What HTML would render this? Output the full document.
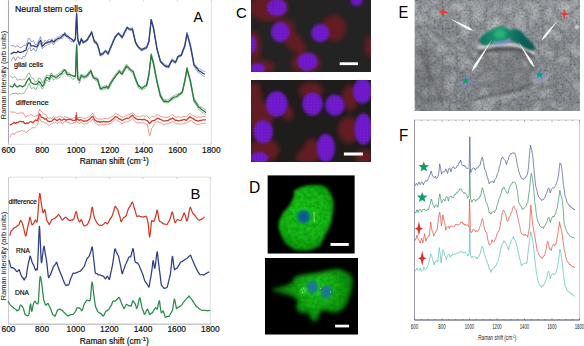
<!DOCTYPE html>
<html><head><meta charset="utf-8"><style>
html,body{margin:0;padding:0;background:#fff;}
svg{display:block;}
</style></head><body>
<svg width="584" height="346" viewBox="0 0 584 346">
<rect width="584" height="346" fill="#fff"/>
<defs><filter id="bl4" x="-50%" y="-50%" width="200%" height="200%"><feGaussianBlur stdDeviation="3"/></filter><filter id="blr" x="-50%" y="-50%" width="200%" height="200%"><feGaussianBlur stdDeviation="2.7"/></filter><filter id="bln" x="-50%" y="-50%" width="200%" height="200%"><feGaussianBlur stdDeviation="1.5"/></filter><filter id="bl2" x="-50%" y="-50%" width="200%" height="200%"><feGaussianBlur stdDeviation="1.6"/></filter><filter id="bl3" x="-50%" y="-50%" width="200%" height="200%"><feGaussianBlur stdDeviation="2.3"/></filter><filter id="bl1" x="-50%" y="-50%" width="200%" height="200%"><feGaussianBlur stdDeviation="0.8"/></filter><pattern id="spk" x="0" y="0" width="3.3" height="3.1" patternUnits="userSpaceOnUse"><circle cx="1" cy="1" r="0.55" fill="#b060e8"/><circle cx="2.6" cy="2.5" r="0.4" fill="#a050f0"/></pattern><clipPath id="c1"><rect x="251" y="0" width="120" height="72"/></clipPath><clipPath id="c2"><rect x="251" y="80" width="120" height="82"/></clipPath><clipPath id="d1"><rect x="267.4" y="175.2" width="87.4" height="78.5"/></clipPath><clipPath id="d2"><rect x="265" y="258" width="93" height="76.7"/></clipPath><clipPath id="e1"><rect x="414.5" y="0" width="165.5" height="111"/></clipPath></defs>
<g clip-path="url(#c1)"><rect x="251" y="0" width="120" height="72" fill="#232323"/>
<g filter="url(#blr)">
<ellipse cx="268" cy="8" rx="19" ry="13" fill="#641e22" opacity="1"/>
<ellipse cx="254" cy="46" rx="7" ry="15" fill="#641e22" opacity="1"/>
<ellipse cx="334" cy="28" rx="12" ry="13" fill="#641e22" opacity="1"/>
<ellipse cx="306" cy="63" rx="15" ry="10" fill="#641e22" opacity="1"/>
<ellipse cx="370" cy="46" rx="5" ry="11" fill="#641e22" opacity="1"/>
<ellipse cx="262" cy="67" rx="13" ry="7" fill="#641e22" opacity="1"/>
<ellipse cx="285" cy="30" rx="10" ry="11" fill="#641e22" opacity="1"/>
<ellipse cx="294" cy="42" rx="14" ry="8" fill="#641e22" opacity="1" transform="rotate(45 294 42)"/>
</g><g filter="url(#bln)">
<ellipse cx="277" cy="7.5" rx="10" ry="8.5" fill="#6c14c8" opacity="1"/>
<ellipse cx="280.3" cy="32" rx="9.3" ry="10" fill="#6c14c8" opacity="1"/>
<ellipse cx="320.3" cy="33" rx="9" ry="9" fill="#6c14c8" opacity="1"/>
<ellipse cx="307.5" cy="61.7" rx="10" ry="9" fill="#6c14c8" opacity="1"/>
<ellipse cx="356.5" cy="1" rx="5.8" ry="5" fill="#6c14c8" opacity="1"/>
<ellipse cx="252" cy="44.5" rx="4" ry="8.5" fill="#6c14c8" opacity="1"/>
<ellipse cx="257.5" cy="68.5" rx="7.5" ry="5" fill="#6c14c8" opacity="1"/>
</g>
<ellipse cx="277" cy="7.5" rx="10" ry="8.5" fill="url(#spk)" opacity="0.35"/>
<ellipse cx="280.3" cy="32" rx="9.3" ry="10" fill="url(#spk)" opacity="0.35"/>
<ellipse cx="320.3" cy="33" rx="9" ry="9" fill="url(#spk)" opacity="0.35"/>
<ellipse cx="307.5" cy="61.7" rx="10" ry="9" fill="url(#spk)" opacity="0.35"/>
<ellipse cx="252" cy="44.5" rx="4" ry="8.5" fill="url(#spk)" opacity="0.35"/>
<ellipse cx="257.5" cy="68.5" rx="7.5" ry="5" fill="url(#spk)" opacity="0.35"/>
<rect x="339.7" y="62.3" width="18.3" height="2.8" fill="#fff"/></g>
<g clip-path="url(#c2)"><rect x="251" y="80" width="120" height="82" fill="#1f1c1c"/>
<g filter="url(#blr)">
<ellipse cx="256" cy="110" rx="7" ry="28" fill="#641e22" opacity="1"/>
<ellipse cx="265" cy="115" rx="9" ry="12" fill="#641e22" opacity="1"/>
<ellipse cx="253" cy="92" rx="5" ry="9" fill="#641e22" opacity="1"/>
<ellipse cx="264" cy="150" rx="15" ry="12" fill="#641e22" opacity="1"/>
<ellipse cx="311" cy="91" rx="12" ry="9" fill="#641e22" opacity="1"/>
<ellipse cx="350" cy="98" rx="8" ry="13" fill="#641e22" opacity="1"/>
<ellipse cx="349" cy="130" rx="11" ry="13" fill="#641e22" opacity="1"/>
<ellipse cx="312" cy="151" rx="9" ry="12" fill="#641e22" opacity="1"/>
<ellipse cx="364" cy="157" rx="9" ry="7" fill="#641e22" opacity="1"/>
<ellipse cx="304" cy="157" rx="8" ry="7" fill="#641e22" opacity="1"/>
<ellipse cx="288" cy="113" rx="5" ry="8" fill="#641e22" opacity="1"/>
</g><g filter="url(#bln)">
<ellipse cx="276.7" cy="103.9" rx="10.9" ry="12.7" fill="#6c14c8" opacity="1"/>
<ellipse cx="312.5" cy="103.9" rx="10.3" ry="11.5" fill="#6c14c8" opacity="1"/>
<ellipse cx="334.9" cy="105.1" rx="9.7" ry="10.5" fill="#6c14c8" opacity="1"/>
<ellipse cx="362.5" cy="91" rx="9.5" ry="12.5" fill="#6c14c8" opacity="1"/>
<ellipse cx="363.5" cy="129" rx="9" ry="15.5" fill="#6c14c8" opacity="1"/>
<ellipse cx="263.3" cy="131.7" rx="9.7" ry="11.5" fill="#6c14c8" opacity="1"/>
<ellipse cx="325.8" cy="148" rx="9" ry="14" fill="#6c14c8" opacity="1"/>
<ellipse cx="259" cy="158" rx="9" ry="6" fill="#6c14c8" opacity="1"/>
</g>
<ellipse cx="276.7" cy="103.9" rx="10.9" ry="12.7" fill="url(#spk)" opacity="0.35"/>
<ellipse cx="312.5" cy="103.9" rx="10.3" ry="11.5" fill="url(#spk)" opacity="0.35"/>
<ellipse cx="334.9" cy="105.1" rx="9.7" ry="10.5" fill="url(#spk)" opacity="0.35"/>
<ellipse cx="362.5" cy="91" rx="9.5" ry="12.5" fill="url(#spk)" opacity="0.35"/>
<ellipse cx="363.5" cy="129" rx="9" ry="15.5" fill="url(#spk)" opacity="0.35"/>
<ellipse cx="263.3" cy="131.7" rx="9.7" ry="11.5" fill="url(#spk)" opacity="0.35"/>
<ellipse cx="325.8" cy="148" rx="9" ry="14" fill="url(#spk)" opacity="0.35"/>
<ellipse cx="259" cy="158" rx="9" ry="6" fill="url(#spk)" opacity="0.35"/>
<rect x="343.9" y="152.5" width="18.9" height="3" fill="#fff"/></g>
<filter id="gtex" x="260" y="170" width="100" height="170" filterUnits="userSpaceOnUse"><feTurbulence type="fractalNoise" baseFrequency="0.25" numOctaves="2" seed="5"/><feColorMatrix type="matrix" values="0 0 0 0 0  0 0 0 0 0.1  0 0 0 0 0  -2.5 0 0 0 1.6"/><feComposite in2="SourceGraphic" operator="in"/></filter>
<g clip-path="url(#d1)"><rect x="267.4" y="175.2" width="87.4" height="78.5" fill="#000"/>
<radialGradient id="gd1" cx="305" cy="214" r="42" gradientUnits="userSpaceOnUse"><stop offset="0" stop-color="#1ccc1c"/><stop offset="0.6" stop-color="#12b412"/><stop offset="1" stop-color="#0a860a"/></radialGradient>
<radialGradient id="gd2" cx="318" cy="288" r="42" gradientUnits="userSpaceOnUse"><stop offset="0" stop-color="#20d020"/><stop offset="0.35" stop-color="#14b414"/><stop offset="0.7" stop-color="#0e900e"/><stop offset="1" stop-color="#086808"/></radialGradient>
<polygon points="294.0,196.0 294.0,190.8 300.0,187.5 307.0,185.6 315.0,185.0 322.6,185.6 327.5,188.5 330.4,193.4 333.0,199.0 333.5,206.4 332.5,214.0 331.2,222.0 328.5,229.0 325.2,235.0 322.5,240.5 320.0,245.4 314.0,249.0 307.0,250.6 300.0,250.5 294.0,249.3 288.0,245.5 283.6,240.2 280.5,234.0 278.4,227.2 279.0,221.5 281.0,216.8 284.0,211.5 288.8,206.4 292.0,201.0" fill="url(#gd1)" filter="url(#bl2)"/>
<polygon points="294.0,196.0 294.0,190.8 300.0,187.5 307.0,185.6 315.0,185.0 322.6,185.6 327.5,188.5 330.4,193.4 333.0,199.0 333.5,206.4 332.5,214.0 331.2,222.0 328.5,229.0 325.2,235.0 322.5,240.5 320.0,245.4 314.0,249.0 307.0,250.6 300.0,250.5 294.0,249.3 288.0,245.5 283.6,240.2 280.5,234.0 278.4,227.2 279.0,221.5 281.0,216.8 284.0,211.5 288.8,206.4 292.0,201.0" fill="#000" filter="url(#gtex)" opacity="0.3"/>
<circle cx="303.6" cy="216.8" r="7" fill="#0f7680" filter="url(#bl1)"/><circle cx="303.6" cy="216.8" r="4.6" fill="#10588a" filter="url(#bl1)"/>
<line x1="313.9" y1="212" x2="314.3" y2="222" stroke="#c8f080" stroke-width="0.8"/>
<rect x="330.5" y="243" width="18.3" height="2.9" fill="#fff"/></g>
<g clip-path="url(#d2)"><rect x="265" y="258" width="93" height="76.7" fill="#000"/>
<polygon points="271.7,289.1 285.0,285.8 292.8,282.5 293.9,278.0 298.4,275.8 305.0,274.7 313.9,273.6 320.6,272.5 329.5,270.2 338.4,269.1 345.1,271.3 350.6,274.7 352.9,280.2 351.8,289.1 349.5,295.8 347.3,302.5 342.9,309.2 336.2,312.5 329.5,311.4 322.8,309.2 319.5,313.6 317.3,320.3 312.8,321.4 309.5,315.8 307.3,311.4 302.8,313.6 298.4,311.4 296.1,306.9 298.4,300.3 291.7,295.8 282.8,293.6 273.9,291.4" fill="url(#gd2)" filter="url(#bl3)"/>
<polygon points="271.7,289.1 285.0,285.8 292.8,282.5 293.9,278.0 298.4,275.8 305.0,274.7 313.9,273.6 320.6,272.5 329.5,270.2 338.4,269.1 345.1,271.3 350.6,274.7 352.9,280.2 351.8,289.1 349.5,295.8 347.3,302.5 342.9,309.2 336.2,312.5 329.5,311.4 322.8,309.2 319.5,313.6 317.3,320.3 312.8,321.4 309.5,315.8 307.3,311.4 302.8,313.6 298.4,311.4 296.1,306.9 298.4,300.3 291.7,295.8 282.8,293.6 273.9,291.4" fill="#000" filter="url(#gtex)" opacity="0.3"/>
<ellipse cx="312.5" cy="287" rx="5.6" ry="6.4" fill="#1a7a8e" filter="url(#bl1)"/>
<ellipse cx="326.4" cy="291.8" rx="5.6" ry="6.8" fill="#1a7a8e" filter="url(#bl1)"/>
<g fill="#90f070"><circle cx="301.5" cy="289.5" r="0.7"/><circle cx="303.5" cy="288.3" r="0.7"/><circle cx="305.2" cy="289.6" r="0.7"/><circle cx="302.5" cy="292.3" r="0.7"/><circle cx="304.8" cy="291.5" r="0.6"/><circle cx="320.5" cy="288.5" r="0.6"/><circle cx="330.5" cy="291.8" r="0.6"/></g>
<ellipse cx="303.5" cy="290.5" rx="4" ry="3.5" fill="#40e040" opacity="0.5" filter="url(#bl1)"/>
<rect x="335.1" y="324.7" width="14" height="2.7" fill="#fff"/></g>
<filter id="noise" x="414.5" y="0" width="165.5" height="111" filterUnits="userSpaceOnUse"><feTurbulence type="fractalNoise" baseFrequency="0.5" numOctaves="1" seed="4"/><feColorMatrix type="matrix" values="1.6 0 0 0 -0.3  1.6 0 0 0 -0.3  1.6 0 0 0 -0.3  0 0 0 0 1"/></filter>
<filter id="noise2" x="414.5" y="0" width="165.5" height="111" filterUnits="userSpaceOnUse"><feTurbulence type="turbulence" baseFrequency="0.07" numOctaves="3" seed="4"/><feColorMatrix type="matrix" values="0 0 0 0 1  0 0 0 0 1  0 0 0 0 1  1.2 0 0 0 -0.05"/></filter>
<linearGradient id="eg" x1="0" y1="0" x2="0" y2="111" gradientUnits="userSpaceOnUse"><stop offset="0" stop-color="#72787e"/><stop offset="0.35" stop-color="#686e74"/><stop offset="1" stop-color="#60666c"/></linearGradient>
<g clip-path="url(#e1)"><rect x="414.5" y="0" width="165.5" height="111" fill="url(#eg)"/>
<rect x="414.5" y="0" width="165.5" height="111" filter="url(#noise2)" opacity="0.5"/>
<rect x="414.5" y="0" width="165.5" height="111" filter="url(#noise)" opacity="0.22"/>
<ellipse cx="505" cy="72" rx="29" ry="21" fill="#6a6a6a" opacity="0.35" filter="url(#bl4)"/>
<ellipse cx="428" cy="80" rx="16" ry="34" fill="#5e5e5e" opacity="0.3" filter="url(#bl4)"/>
<g filter="url(#bl1)" stroke="#4a4a4a" fill="none"><path d="M419,48 C425,62 430,75 437,90 S443,105 445,111" stroke-width="2" opacity="0.45"/><path d="M474,99 C490,95 505,92 511,91.3 S525,86 534,83.5" stroke-width="2.2" opacity="0.55"/><path d="M530,93 C540,90 548,87 556,84" stroke-width="2" opacity="0.5"/><path d="M476,57 C485,52 493,50 498,50 S515,51 521,55 S530,64 534,71" stroke-width="1.8" opacity="0.55"/><path d="M556,42 L557,60" stroke-width="1.5" opacity="0.35"/><path d="M414,22 C430,28 445,30 460,33" stroke-width="2" opacity="0.25"/><path d="M417,26 C428,30 438,36 446,42 S465,55 474,60" stroke-width="1.6" opacity="0.35"/><path d="M424,35 C427,60 429,85 432,111" stroke-width="1.8" opacity="0.3"/><path d="M543,49 C555,52 566,55 578,59" stroke-width="1.6" opacity="0.3"/></g>
<g filter="url(#bl1)" stroke="#c4c4c4" fill="none"><path d="M419,21 C428,32 437,42 446,50" stroke-width="1.6" opacity="0.5"/><path d="M476,102 C495,99 515,96 540,90" stroke-width="2" opacity="0.5"/><path d="M440,44 C450,40 462,34 474,30" stroke-width="1.6" opacity="0.45"/></g>
<path d="M478,47.5 C490,44.5 505,43 518,45.5 C525,47 530,50 534,54" stroke="#d0d0d0" stroke-width="3" fill="none" filter="url(#bl1)"/>
<path d="M478,52.5 C490,49.5 505,47.5 518,50 C525,51.5 530,54.5 534,57.5" stroke="#404040" stroke-width="2.5" fill="none" filter="url(#bl1)" opacity="0.8"/>
<linearGradient id="cellg" x1="480" y1="0" x2="536" y2="0" gradientUnits="userSpaceOnUse"><stop offset="0" stop-color="#0f7466"/><stop offset="0.35" stop-color="#189a70"/><stop offset="0.55" stop-color="#137a66"/><stop offset="0.75" stop-color="#0c625a"/><stop offset="1" stop-color="#0a5650"/></linearGradient>
<polygon points="479.6,40.9 480.8,37.0 485.3,33.6 491.0,30.2 496.6,27.3 502.2,26.6 506.8,27.9 510.2,30.2 513.5,29.0 518.1,29.6 521.5,31.3 524.8,35.8 529.4,40.3 533.9,44.9 535.6,48.2 531.6,50.5 526.0,48.8 521.5,46.0 516.9,42.6 511.3,40.9 509.0,39.2 507.9,41.5 502.2,43.2 494.3,43.7 491.0,44.3 485.3,45.4 480.8,43.7" fill="url(#cellg)" filter="url(#bl1)"/>
<g filter="url(#bl2)"><ellipse cx="500" cy="34" rx="6" ry="4.5" fill="#2ab078"/></g>
<path d="M493,42.5 C499,43.8 505,42.5 510,39.5" stroke="#8c8cd8" stroke-width="2.8" fill="none" filter="url(#bl1)"/>
<polygon points="449.6,18.6 467.8,29.4 473.1,30.7 469.0,27.1" fill="#fff"/>
<polygon points="492,39.5 474.4,64.8 471.4,72 476.6,66.2" fill="#fff"/>
<polygon points="518.4,41.7 530.2,63.0 534.5,67.5 532.4,61.7" fill="#fff"/>
<polygon points="558.5,19.4 543.9,35.5 541.5,40.5 545.9,37.1" fill="#fff"/>
<g filter="url(#bl1)"><circle cx="466" cy="81.5" r="5" fill="#8888c8" opacity="0.75"/><circle cx="539.8" cy="76" r="5.5" fill="#8888c8" opacity="0.75"/></g>
<polygon points="465.6,76.2 466.7,79.1 469.8,79.2 467.4,81.2 468.2,84.2 465.6,82.4 463.0,84.2 463.8,81.2 461.4,79.2 464.5,79.1" fill="#16a05e"/>
<polygon points="539.6,70.4 540.7,73.3 543.8,73.4 541.4,75.4 542.2,78.4 539.6,76.6 537.0,78.4 537.8,75.4 535.4,73.4 538.5,73.3" fill="#16a05e"/>
<polygon points="443.2,7.0 444.4,11.0 448.2,12.2 444.4,13.4 443.2,17.4 442.0,13.4 438.2,12.2 442.0,11.0" fill="#e83a30"/>
<polygon points="564.4,8.7 565.6,12.7 569.4,13.9 565.6,15.1 564.4,19.1 563.2,15.1 559.4,13.9 563.2,12.7" fill="#e83a30"/>
<circle cx="576.8" cy="26.9" r="2" fill="#f0f0f0" filter="url(#bl1)"/>
</g>
<line x1="8.5" y1="-0.5" x2="211.3" y2="-0.5" stroke="#d8d8dc" stroke-width="0.8"/>
<line x1="211.3" y1="-0.5" x2="211.3" y2="144.3" stroke="#d8d8dc" stroke-width="0.8"/>
<line x1="8.5" y1="144.3" x2="211.3" y2="144.3" stroke="#d8d8dc" stroke-width="0.8"/>
<line x1="8.5" y1="-0.5" x2="8.5" y2="144.3" stroke="#a8a8b4" stroke-width="1"/>
<line x1="8.5" y1="-0.5" x2="8.5" y2="1.5" stroke="#c8c8cc" stroke-width="0.7"/>
<line x1="8.5" y1="144.3" x2="8.5" y2="142.3" stroke="#c8c8cc" stroke-width="0.7"/>
<line x1="42.3" y1="-0.5" x2="42.3" y2="1.5" stroke="#c8c8cc" stroke-width="0.7"/>
<line x1="42.3" y1="144.3" x2="42.3" y2="142.3" stroke="#c8c8cc" stroke-width="0.7"/>
<line x1="76.1" y1="-0.5" x2="76.1" y2="1.5" stroke="#c8c8cc" stroke-width="0.7"/>
<line x1="76.1" y1="144.3" x2="76.1" y2="142.3" stroke="#c8c8cc" stroke-width="0.7"/>
<line x1="109.9" y1="-0.5" x2="109.9" y2="1.5" stroke="#c8c8cc" stroke-width="0.7"/>
<line x1="109.9" y1="144.3" x2="109.9" y2="142.3" stroke="#c8c8cc" stroke-width="0.7"/>
<line x1="143.7" y1="-0.5" x2="143.7" y2="1.5" stroke="#c8c8cc" stroke-width="0.7"/>
<line x1="143.7" y1="144.3" x2="143.7" y2="142.3" stroke="#c8c8cc" stroke-width="0.7"/>
<line x1="177.5" y1="-0.5" x2="177.5" y2="1.5" stroke="#c8c8cc" stroke-width="0.7"/>
<line x1="177.5" y1="144.3" x2="177.5" y2="142.3" stroke="#c8c8cc" stroke-width="0.7"/>
<line x1="211.3" y1="-0.5" x2="211.3" y2="1.5" stroke="#c8c8cc" stroke-width="0.7"/>
<line x1="211.3" y1="144.3" x2="211.3" y2="142.3" stroke="#c8c8cc" stroke-width="0.7"/>
<text x="8.5" y="153.4" font-size="8.4" text-anchor="middle" font-family="Liberation Sans, sans-serif" stroke="#000" stroke-width="0.18" fill="#111">600</text>
<text x="42.3" y="153.4" font-size="8.4" text-anchor="middle" font-family="Liberation Sans, sans-serif" stroke="#000" stroke-width="0.18" fill="#111">800</text>
<text x="76.1" y="153.4" font-size="8.4" text-anchor="middle" font-family="Liberation Sans, sans-serif" stroke="#000" stroke-width="0.18" fill="#111">1000</text>
<text x="109.9" y="153.4" font-size="8.4" text-anchor="middle" font-family="Liberation Sans, sans-serif" stroke="#000" stroke-width="0.18" fill="#111">1200</text>
<text x="143.7" y="153.4" font-size="8.4" text-anchor="middle" font-family="Liberation Sans, sans-serif" stroke="#000" stroke-width="0.18" fill="#111">1400</text>
<text x="177.5" y="153.4" font-size="8.4" text-anchor="middle" font-family="Liberation Sans, sans-serif" stroke="#000" stroke-width="0.18" fill="#111">1600</text>
<text x="211.3" y="153.4" font-size="8.4" text-anchor="middle" font-family="Liberation Sans, sans-serif" stroke="#000" stroke-width="0.18" fill="#111">1800</text>
<text x="79.7" y="164.3" font-size="8.4" font-family="Liberation Sans, sans-serif" stroke="#000" stroke-width="0.18" fill="#111">Raman shift (cm<tspan dy="-3" font-size="6">-1</tspan><tspan dy="3">)</tspan></text>
<text transform="translate(6.4,75) rotate(-90)" font-size="7.4" text-anchor="middle" font-family="Liberation Sans, sans-serif" fill="#222">Raman intensity (arb units)</text>
<text x="15" y="11.7" font-size="8.8" font-family="Liberation Sans, sans-serif" stroke="#000" stroke-width="0.18" fill="#111">Neural stem cells</text>
<text x="13.9" y="67.4" font-size="7.2" font-family="Liberation Sans, sans-serif" stroke="#000" stroke-width="0.18" fill="#111">glial cells</text>
<text x="15.8" y="104.6" font-size="7.5" font-family="Liberation Sans, sans-serif" stroke="#000" stroke-width="0.18" fill="#111">difference</text>
<text x="193.5" y="22.4" font-size="14" font-family="Liberation Sans, sans-serif" fill="#000">A</text>
<polyline points="11.1,45.6 12.4,46.0 13.7,45.2 15.4,47.2 16.7,45.8 18.0,46.1 19.3,47.2 20.6,47.6 21.9,47.1 23.2,46.1 24.5,45.2 25.8,45.4 27.1,42.6 28.4,38.3 30.1,39.1 31.0,41.7 32.3,41.4 33.6,40.8 34.9,44.2 36.2,45.2 37.5,43.1 38.8,40.2 40.5,36.7 42.3,43.5 44.0,41.4 45.3,40.3 46.6,41.6 47.9,40.2 49.2,39.4 50.5,40.4 51.8,38.7 53.5,42.1 54.8,39.5 56.1,38.1 57.4,37.3 58.7,37.1 60.5,35.7 62.2,34.5 63.5,34.9 64.8,32.3 66.1,34.7 67.4,34.9 69.1,37.7 70.8,38.9 72.2,39.8 73.5,40.9 75.4,38.0 76.6,12.3 77.8,38.0 79.5,43.8 81.3,38.2 83.0,41.1 84.4,40.9 85.9,40.0 87.3,38.7 88.8,36.1 90.2,33.6 91.7,30.9 93.0,36.2 94.3,40.5 96.0,41.0 97.7,43.6 99.0,49.0 100.3,54.0 101.6,53.1 102.9,52.7 104.2,51.4 105.5,50.3 106.8,51.1 108.1,52.8 109.8,48.4 111.6,44.1 113.3,39.9 115.0,36.0 116.8,34.0 118.5,32.3 120.2,34.0 122.0,36.4 123.3,33.7 124.6,31.1 125.9,28.7 127.2,27.0 128.5,27.8 129.8,28.4 131.1,28.2 132.4,27.8 133.9,34.9 135.5,41.9 137.0,43.9 138.5,46.8 140.2,48.0 141.9,48.8 143.5,48.3 145.0,47.2 146.6,46.3 148.9,40.4 151.2,19.0 153.5,26.4 155.2,36.8 157.0,47.9 158.7,54.2 160.4,60.3 162.0,62.1 163.5,63.0 165.1,64.7 166.8,65.3 168.5,66.0 170.2,62.3 172.0,58.7 173.8,60.1 175.5,61.8 177.8,56.0 179.5,55.2 181.2,54.4 182.9,49.5 184.7,45.4 187.0,32.1 188.8,38.6 190.5,44.2 192.2,53.5 194.0,63.3 195.5,65.0 197.1,66.9 198.6,68.5 200.1,69.1 201.5,70.0 202.9,71.0 204.4,71.4" fill="none" stroke="#2d3f82" stroke-width="0.6" stroke-linejoin="round" stroke-linecap="round" opacity="0.85" />
<polyline points="11.1,60.9 12.4,58.2 13.7,56.9 15.4,60.7 16.7,57.9 18.0,56.5 19.3,58.3 20.6,58.3 21.9,58.6 23.2,56.4 24.5,57.1 25.8,54.9 27.1,51.9 28.4,48.9 30.1,47.2 31.0,51.0 32.3,49.9 33.6,48.0 34.9,50.7 36.2,51.2 37.5,47.8 38.8,44.8 40.5,43.3 42.3,48.7 44.0,46.7 45.3,45.8 46.6,45.6 47.9,44.3 49.2,44.1 50.5,43.3 51.8,42.1 53.5,45.0 54.8,42.0 56.1,41.2 57.4,41.0 58.7,40.0 60.5,38.1 62.2,38.6 63.5,37.0 64.8,34.7 66.1,35.7 67.4,38.0 69.1,38.3 70.8,41.3 72.2,41.6 73.5,42.8 75.4,40.0 76.6,14.5 77.8,41.9 79.5,45.8 81.3,40.0 83.0,43.7 84.4,42.6 85.9,41.9 87.3,41.0 88.8,38.3 90.2,35.9 91.7,33.2 93.0,37.5 94.3,43.1 96.0,43.4 97.7,46.0 99.0,50.7 100.3,56.0 101.6,55.6 102.9,54.7 104.2,53.3 105.5,51.7 106.8,53.8 108.1,54.4 109.8,50.4 111.6,45.9 113.3,42.0 115.0,38.2 116.8,35.8 118.5,33.5 120.2,36.1 122.0,38.6 123.3,36.0 124.6,33.2 125.9,31.3 127.2,28.3 128.5,29.5 129.8,30.8 131.1,30.4 132.4,29.6 133.9,36.9 135.5,43.5 137.0,46.0 138.5,48.5 140.2,50.0 141.9,50.9 143.5,49.9 145.0,49.4 146.6,48.5 148.9,42.5 151.2,21.0 153.5,29.0 155.2,39.2 157.0,50.0 158.7,55.5 160.4,62.3 162.0,64.0 163.5,65.2 165.1,66.6 166.8,67.7 168.5,68.0 170.2,64.4 172.0,60.7 173.8,62.7 175.5,63.3 177.8,57.3 179.5,56.8 181.2,56.3 182.9,52.3 184.7,47.2 187.0,34.7 188.8,41.0 190.5,47.7 192.2,56.8 194.0,66.3 195.5,68.7 197.1,70.9 198.6,72.9 200.1,73.2 201.5,74.5 202.9,75.9 204.4,76.6" fill="none" stroke="#2d3f82" stroke-width="0.6" stroke-linejoin="round" stroke-linecap="round" opacity="0.85" />
<polyline points="11.1,53.9 12.4,53.1 13.7,52.2 15.4,52.7 16.7,52.6 18.0,51.2 19.3,52.3 20.6,52.4 21.9,51.8 23.2,51.7 24.5,50.6 25.8,50.4 27.1,46.1 28.4,42.8 30.1,43.1 31.0,46.0 32.3,45.8 33.6,45.8 34.9,46.3 36.2,47.0 37.5,45.9 38.8,42.9 40.5,40.4 42.3,46.4 44.0,44.5 45.3,42.9 46.6,43.2 47.9,42.0 49.2,42.0 50.5,41.8 51.8,40.6 53.5,41.9 54.8,40.9 56.1,39.7 57.4,39.0 58.7,38.3 60.5,37.8 62.2,36.1 63.5,34.8 64.8,33.7 66.1,36.0 67.4,36.1 69.1,37.2 70.8,38.5 72.2,39.5 73.5,41.2 75.4,39.1 76.6,13.6 77.8,39.6 79.5,44.7 81.3,38.8 83.0,42.3 84.4,41.9 85.9,40.8 87.3,39.7 88.8,36.9 90.2,35.0 91.7,32.3 93.0,37.1 94.3,41.4 96.0,42.5 97.7,45.4 99.0,49.9 100.3,55.0 101.6,53.9 102.9,54.1 104.2,52.0 105.5,51.0 106.8,52.0 108.1,54.0 109.8,49.5 111.6,45.4 113.3,41.4 115.0,37.7 116.8,35.1 118.5,33.3 120.2,35.3 122.0,37.2 123.3,35.3 124.6,32.4 125.9,29.8 127.2,27.3 128.5,28.6 129.8,29.2 131.1,29.4 132.4,29.0 133.9,35.3 135.5,42.1 137.0,45.0 138.5,47.1 140.2,48.6 141.9,50.0 143.5,48.7 145.0,48.1 146.6,47.8 148.9,41.6 151.2,19.6 153.5,28.1 155.2,38.4 157.0,49.0 158.7,55.1 160.4,61.2 162.0,63.0 163.5,64.7 165.1,66.0 166.8,66.3 168.5,66.9 170.2,63.5 172.0,60.3 173.8,61.3 175.5,62.4 177.8,56.9 179.5,55.7 181.2,55.6 182.9,50.7 184.7,46.3 187.0,33.8 188.8,39.6 190.5,46.6 192.2,55.1 194.0,64.8 195.5,66.7 197.1,68.3 198.6,70.6 200.1,71.3 201.5,72.2 202.9,73.3 204.4,74.0" fill="none" stroke="#2d3f82" stroke-width="1.3" stroke-linejoin="round" stroke-linecap="round" opacity="1" />
<polyline points="10.2,75.7 11.5,77.4 12.8,78.0 14.5,76.3 15.8,77.4 17.1,80.1 18.4,79.9 19.7,79.1 21.0,79.8 22.3,80.0 23.6,79.1 24.9,79.4 26.2,77.7 27.5,74.5 29.3,72.9 31.0,77.3 32.3,78.0 33.6,78.4 34.9,81.4 36.2,82.0 37.5,80.4 38.8,78.0 40.5,78.8 42.3,83.0 43.6,80.9 44.9,77.6 46.6,75.1 47.9,75.4 49.2,76.3 50.9,73.4 52.2,73.4 53.5,76.4 55.2,75.2 57.0,75.0 58.7,73.3 60.4,72.3 61.9,70.6 63.3,69.1 64.8,69.6 66.1,70.1 67.4,72.9 69.1,72.7 70.8,75.0 72.5,75.7 74.3,76.1 75.5,74.9 76.6,43.7 77.8,76.9 79.5,78.3 81.3,73.9 82.6,75.1 83.9,75.4 85.6,75.2 87.3,74.3 89.0,71.7 90.8,69.5 92.1,72.7 93.4,75.7 94.7,77.1 96.0,77.4 97.7,78.0 99.0,82.3 100.3,87.2 102.0,87.0 103.8,86.2 105.1,85.7 106.4,85.3 108.1,87.2 109.8,83.3 111.6,80.2 113.3,77.6 115.0,75.0 116.5,72.9 117.9,71.1 119.4,69.6 120.7,71.4 122.0,72.2 123.4,69.8 124.9,66.9 126.3,64.1 128.1,65.9 129.8,68.3 131.5,69.5 133.2,70.5 134.9,75.5 136.7,80.3 138.5,85.1 140.2,86.3 141.9,87.0 143.5,86.4 145.0,85.2 146.6,83.7 148.9,73.5 151.2,53.5 153.5,61.5 155.2,70.6 157.0,80.4 158.7,86.7 160.4,93.6 162.2,97.2 163.9,100.0 165.4,99.8 167.0,100.1 168.5,99.4 170.1,98.4 171.6,97.3 173.2,96.2 174.7,95.2 176.3,94.4 177.8,93.9 179.3,93.2 180.9,92.1 182.4,90.7 184.7,80.0 187.0,67.0 188.8,74.0 190.5,79.9 192.2,89.3 194.0,97.9 195.5,100.3 197.1,103.1 198.6,105.2 200.1,106.4 201.5,107.3 202.8,108.0 204.2,109.1 205.5,109.9" fill="none" stroke="#267a3a" stroke-width="0.6" stroke-linejoin="round" stroke-linecap="round" opacity="0.85" />
<polyline points="10.2,95.2 11.5,93.7 12.8,93.7 14.5,93.6 15.8,93.0 17.1,94.0 18.4,94.3 19.7,93.0 21.0,94.3 22.3,93.2 23.6,93.7 24.9,91.5 26.2,89.5 27.5,87.5 29.3,83.1 31.0,88.4 32.3,88.2 33.6,87.0 34.9,89.3 36.2,89.3 37.5,86.3 38.8,83.6 40.5,86.4 42.3,89.2 43.6,87.2 44.9,84.2 46.6,80.1 47.9,80.5 49.2,82.0 50.9,77.3 52.2,77.7 53.5,80.3 55.2,78.6 57.0,79.0 58.7,78.1 60.4,76.2 61.9,74.0 63.3,74.2 64.8,72.7 66.1,73.4 67.4,74.9 69.1,76.7 70.8,76.6 72.5,79.1 74.3,79.0 75.5,77.7 76.6,46.7 77.8,80.1 79.5,83.2 81.3,77.0 82.6,77.9 83.9,79.0 85.6,77.8 87.3,77.2 89.0,75.0 90.8,72.7 92.1,76.0 93.4,78.9 94.7,79.3 96.0,81.0 97.7,81.3 99.0,85.6 100.3,89.9 102.0,90.0 103.8,89.6 105.1,88.8 106.4,88.2 108.1,89.6 109.8,86.9 111.6,82.8 113.3,80.5 115.0,77.8 116.5,76.0 117.9,74.3 119.4,72.4 120.7,73.6 122.0,75.3 123.4,73.0 124.9,70.2 126.3,67.2 128.1,69.4 129.8,70.6 131.5,72.2 133.2,73.9 134.9,78.7 136.7,83.1 138.5,88.0 140.2,88.9 141.9,90.1 143.5,89.0 145.0,88.2 146.6,86.8 148.9,76.2 151.2,56.7 153.5,64.7 155.2,73.7 157.0,83.4 158.7,90.3 160.4,97.1 162.2,100.3 163.9,102.4 165.4,102.8 167.0,102.9 168.5,102.7 170.1,101.3 171.6,100.6 173.2,99.2 174.7,98.3 176.3,97.4 177.8,97.4 179.3,95.7 180.9,94.4 182.4,93.3 184.7,83.0 187.0,70.9 188.8,76.6 190.5,83.1 192.2,92.2 194.0,101.9 195.5,104.0 197.1,106.5 198.6,109.2 200.1,110.7 201.5,111.9 202.8,112.2 204.2,113.6 205.5,114.7" fill="none" stroke="#267a3a" stroke-width="0.6" stroke-linejoin="round" stroke-linecap="round" opacity="0.85" />
<polyline points="10.2,86.1 11.5,86.6 12.8,87.0 14.5,83.7 15.8,86.0 17.1,86.9 18.4,86.7 19.7,85.5 21.0,86.0 22.3,87.0 23.6,85.9 24.9,85.7 26.2,82.4 27.5,80.2 29.3,77.9 31.0,82.5 32.3,83.2 33.6,84.1 34.9,84.2 36.2,84.4 37.5,83.7 38.8,81.2 40.5,83.0 42.3,86.4 43.6,84.5 44.9,80.7 46.6,77.2 47.9,77.7 49.2,79.4 50.9,75.2 52.2,75.8 53.5,76.7 55.2,77.0 57.0,77.1 58.7,75.6 60.4,74.0 61.9,73.2 63.3,71.1 64.8,70.0 66.1,72.0 67.4,74.7 69.1,74.3 70.8,75.0 72.5,75.7 74.3,76.4 75.5,75.6 76.6,45.3 77.8,78.7 79.5,80.4 81.3,75.4 82.6,76.2 83.9,77.1 85.6,76.6 87.3,75.5 89.0,73.1 90.8,70.8 92.1,74.5 93.4,77.5 94.7,78.4 96.0,78.8 97.7,79.9 99.0,84.6 100.3,88.6 102.0,88.5 103.8,87.4 105.1,87.7 106.4,86.4 108.1,88.4 109.8,84.6 111.6,81.9 113.3,79.2 115.0,76.8 116.5,74.9 117.9,73.3 119.4,71.2 120.7,72.9 122.0,74.0 123.4,71.1 124.9,69.0 126.3,65.9 128.1,67.5 129.8,69.1 131.5,70.8 133.2,71.8 134.9,77.2 136.7,82.0 138.5,85.9 140.2,87.0 141.9,88.6 143.5,87.1 145.0,86.3 146.6,85.4 148.9,74.5 151.2,54.9 153.5,63.5 155.2,72.3 157.0,81.5 158.7,88.9 160.4,95.8 162.2,98.8 163.9,101.5 165.4,101.2 167.0,101.5 168.5,101.6 170.1,100.3 171.6,98.7 173.2,97.6 174.7,97.0 176.3,96.5 177.8,95.6 179.3,94.4 180.9,93.5 182.4,91.6 184.7,81.7 187.0,68.7 188.8,75.3 190.5,81.9 192.2,90.6 194.0,100.5 195.5,102.0 197.1,104.8 198.6,107.0 200.1,108.0 201.5,109.5 202.8,110.3 204.2,111.3 205.5,112.3" fill="none" stroke="#267a3a" stroke-width="1.3" stroke-linejoin="round" stroke-linecap="round" opacity="1" />
<polyline points="10.2,111.5 11.5,112.3 12.8,111.9 14.1,112.2 15.4,112.3 16.7,113.4 18.0,113.4 19.3,112.9 20.6,113.0 21.9,112.9 23.2,112.8 24.5,115.2 25.8,117.2 27.1,115.5 28.4,116.3 29.7,114.9 31.0,114.5 33.0,115.5 34.3,116.9 35.6,115.8 37.5,115.9 39.5,109.2 41.4,111.6 43.4,113.2 44.7,114.4 46.0,114.5 47.6,117.9 49.2,118.5 50.5,117.7 51.8,118.6 53.1,116.6 54.4,117.6 55.7,117.0 57.0,117.6 58.3,116.5 59.6,116.2 60.9,116.5 62.2,117.2 63.5,118.2 64.8,116.3 66.1,117.7 67.5,116.8 68.8,118.5 70.1,118.6 71.3,118.5 72.6,118.7 74.0,117.7 75.5,117.3 76.3,112.1 76.9,117.3 77.6,117.5 79.1,117.5 81.1,117.2 82.4,118.1 83.7,118.7 85.3,118.3 86.9,118.0 88.2,117.0 89.5,116.6 91.2,114.7 92.8,113.0 94.7,116.3 96.0,117.8 97.3,119.1 98.6,118.8 99.9,119.0 101.2,119.2 102.5,119.2 103.8,118.5 105.1,118.6 106.4,118.6 107.7,118.6 109.0,118.2 110.7,117.2 112.3,116.3 113.9,115.2 115.5,113.1 117.2,114.3 118.8,114.9 120.4,116.0 122.0,117.3 123.7,117.0 125.3,116.0 126.6,115.2 127.9,115.0 129.2,114.6 130.8,113.7 132.5,112.8 134.1,113.9 135.7,116.1 136.9,116.3 138.1,116.1 139.3,116.6 140.8,116.1 142.2,115.9 143.7,115.7 144.9,116.3 146.1,115.8 147.3,115.8 149.4,118.7 151.6,116.8 153.1,116.6 154.5,117.0 155.9,115.3 157.4,114.5 158.9,115.3 160.3,116.1 162.1,116.6 163.9,117.2 165.3,117.2 166.8,117.5 168.2,117.3 169.7,116.4 171.1,115.4 172.6,114.4 174.1,116.2 175.5,116.9 176.9,117.2 178.4,116.7 179.8,117.0 181.2,117.2 182.7,116.8 184.1,116.5 186.3,116.9 188.1,115.0 189.9,113.3 191.4,114.6 192.8,115.2 194.2,116.1 195.7,116.6 197.1,117.8 198.6,116.8 200.0,117.2 201.5,117.2 202.8,116.2 204.2,116.6 205.5,116.3" fill="none" stroke="#d23c2c" stroke-width="0.6" stroke-linejoin="round" stroke-linecap="round" opacity="0.85" />
<polyline points="10.2,137.0 11.5,134.3 12.8,133.0 14.1,134.8 15.4,132.9 16.7,132.0 18.0,132.3 19.3,131.1 20.6,131.5 21.9,130.0 23.2,131.3 24.5,131.0 25.8,132.6 27.1,132.0 28.4,130.2 29.7,129.8 31.0,128.4 33.0,127.5 34.3,128.1 35.6,126.5 37.5,124.9 39.5,117.8 41.4,122.0 43.4,121.8 44.7,123.0 46.0,123.0 47.6,124.7 49.2,125.2 50.5,124.7 51.8,123.9 53.1,122.5 54.4,123.2 55.7,122.2 57.0,123.5 58.3,123.2 59.6,121.9 60.9,121.8 62.2,124.1 63.5,123.2 64.8,121.5 66.1,121.5 67.5,122.7 68.8,121.9 70.1,123.9 71.3,123.2 72.6,123.5 74.0,122.6 75.5,122.5 76.3,119.0 76.9,122.3 77.6,121.9 79.1,123.7 81.1,122.0 82.4,123.3 83.7,124.3 85.3,123.8 86.9,123.7 88.2,122.7 89.5,121.3 91.2,120.9 92.8,119.0 94.7,122.3 96.0,123.3 97.3,124.8 98.6,125.0 99.9,124.8 101.2,124.9 102.5,124.5 103.8,125.0 105.1,124.2 106.4,124.5 107.7,124.3 109.0,124.3 110.7,123.4 112.3,122.2 113.9,120.5 115.5,119.4 117.2,120.6 118.8,121.4 120.4,122.3 122.0,124.1 123.7,122.6 125.3,122.0 126.6,121.9 127.9,121.6 129.2,120.8 130.8,120.1 132.5,118.8 134.1,120.5 135.7,122.3 136.9,122.9 138.1,122.9 139.3,122.9 140.8,123.0 142.2,122.9 143.7,122.6 144.9,123.5 146.1,124.1 147.3,124.5 149.4,135.2 150.0,135.6 151.6,128.7 153.1,126.4 154.5,123.7 155.9,122.4 157.4,121.7 158.9,122.2 160.3,122.8 162.1,123.3 163.9,124.8 165.3,124.1 166.8,123.6 168.2,123.5 169.7,122.8 171.1,122.6 172.6,121.2 174.1,122.4 175.5,123.4 176.9,123.9 178.4,123.8 179.8,124.0 181.2,124.0 182.7,123.8 184.1,123.4 186.3,123.3 188.1,121.9 189.9,120.5 191.4,120.8 192.8,122.0 194.2,123.0 195.7,123.6 197.1,124.7 198.6,124.5 200.0,124.0 201.5,123.6 202.8,123.4 204.2,123.3 205.5,123.3" fill="none" stroke="#d23c2c" stroke-width="0.6" stroke-linejoin="round" stroke-linecap="round" opacity="0.85" />
<polyline points="10.2,124.9 11.5,124.3 12.8,123.6 14.1,122.2 15.4,123.4 16.7,122.6 18.0,122.5 19.3,121.4 20.6,121.3 21.9,121.9 23.2,121.5 24.5,123.3 25.8,123.7 27.1,122.9 28.4,123.2 29.7,122.0 31.0,121.5 33.0,122.9 34.3,121.3 35.6,119.9 37.5,120.8 39.5,113.9 41.4,117.2 43.4,117.8 44.7,119.2 46.0,118.6 47.6,120.9 49.2,121.6 50.5,121.5 51.8,121.1 53.1,119.8 54.4,118.7 55.7,119.8 57.0,120.6 58.3,119.7 59.6,118.8 60.9,120.1 62.2,120.2 63.5,119.5 64.8,119.1 66.1,120.4 67.5,119.4 68.8,119.4 70.1,119.6 71.3,119.7 72.6,120.4 74.0,120.3 75.5,120.1 76.3,115.2 76.9,119.7 77.6,119.1 79.1,120.4 81.1,119.7 82.4,120.5 83.7,121.3 85.3,120.8 86.9,121.1 88.2,120.0 89.5,119.2 91.2,117.4 92.8,116.3 94.7,119.9 96.0,120.6 97.3,121.9 98.6,121.4 99.9,122.3 101.2,121.7 102.5,121.8 103.8,121.3 105.1,121.8 106.4,121.7 107.7,121.9 109.0,121.8 110.7,120.9 112.3,119.5 113.9,118.3 115.5,116.5 117.2,117.1 118.8,118.6 120.4,119.4 122.0,120.5 123.7,119.5 125.3,118.9 126.6,118.2 127.9,118.4 129.2,118.0 130.8,116.3 132.5,115.2 134.1,117.3 135.7,118.6 136.9,119.2 138.1,119.6 139.3,119.4 140.8,119.4 142.2,119.8 143.7,119.3 144.9,119.5 146.1,120.3 147.3,120.6 149.4,123.6 151.6,121.2 153.1,120.6 154.5,120.5 155.9,119.5 157.4,118.2 158.9,118.6 160.3,119.4 162.1,120.2 163.9,121.2 165.3,120.8 166.8,120.6 168.2,120.6 169.7,119.2 171.1,119.0 172.6,117.9 174.1,119.3 175.5,120.6 176.9,120.2 178.4,121.0 179.8,120.3 181.2,120.4 182.7,120.0 184.1,119.4 186.3,120.4 188.1,118.5 189.9,116.7 191.4,117.9 192.8,118.4 194.2,119.4 195.7,120.5 197.1,120.7 198.6,121.1 200.0,120.3 201.5,120.5 202.8,119.8 204.2,119.9 205.5,119.8" fill="none" stroke="#d23c2c" stroke-width="1.3" stroke-linejoin="round" stroke-linecap="round" opacity="1" />
<line x1="8.5" y1="177.2" x2="210.3" y2="177.2" stroke="#d8d8dc" stroke-width="0.8"/>
<line x1="210.3" y1="177.2" x2="210.3" y2="324.2" stroke="#d8d8dc" stroke-width="0.8"/>
<line x1="8.5" y1="324.2" x2="210.3" y2="324.2" stroke="#d8d8dc" stroke-width="0.8"/>
<line x1="8.5" y1="177.2" x2="8.5" y2="324.2" stroke="#ccccd0" stroke-width="1"/>
<line x1="8.5" y1="324.2" x2="210.3" y2="324.2" stroke="#b4b4b8" stroke-width="0.9"/>
<line x1="8.5" y1="177.2" x2="8.5" y2="179.2" stroke="#c8c8cc" stroke-width="0.7"/>
<line x1="8.5" y1="324.2" x2="8.5" y2="322.2" stroke="#c8c8cc" stroke-width="0.7"/>
<line x1="42.1" y1="177.2" x2="42.1" y2="179.2" stroke="#c8c8cc" stroke-width="0.7"/>
<line x1="42.1" y1="324.2" x2="42.1" y2="322.2" stroke="#c8c8cc" stroke-width="0.7"/>
<line x1="75.8" y1="177.2" x2="75.8" y2="179.2" stroke="#c8c8cc" stroke-width="0.7"/>
<line x1="75.8" y1="324.2" x2="75.8" y2="322.2" stroke="#c8c8cc" stroke-width="0.7"/>
<line x1="109.4" y1="177.2" x2="109.4" y2="179.2" stroke="#c8c8cc" stroke-width="0.7"/>
<line x1="109.4" y1="324.2" x2="109.4" y2="322.2" stroke="#c8c8cc" stroke-width="0.7"/>
<line x1="143.0" y1="177.2" x2="143.0" y2="179.2" stroke="#c8c8cc" stroke-width="0.7"/>
<line x1="143.0" y1="324.2" x2="143.0" y2="322.2" stroke="#c8c8cc" stroke-width="0.7"/>
<line x1="176.7" y1="177.2" x2="176.7" y2="179.2" stroke="#c8c8cc" stroke-width="0.7"/>
<line x1="176.7" y1="324.2" x2="176.7" y2="322.2" stroke="#c8c8cc" stroke-width="0.7"/>
<line x1="210.3" y1="177.2" x2="210.3" y2="179.2" stroke="#c8c8cc" stroke-width="0.7"/>
<line x1="210.3" y1="324.2" x2="210.3" y2="322.2" stroke="#c8c8cc" stroke-width="0.7"/>
<text x="8.5" y="332.4" font-size="8.4" text-anchor="middle" font-family="Liberation Sans, sans-serif" stroke="#000" stroke-width="0.18" fill="#111">600</text>
<text x="42.1" y="332.4" font-size="8.4" text-anchor="middle" font-family="Liberation Sans, sans-serif" stroke="#000" stroke-width="0.18" fill="#111">800</text>
<text x="75.8" y="332.4" font-size="8.4" text-anchor="middle" font-family="Liberation Sans, sans-serif" stroke="#000" stroke-width="0.18" fill="#111">1000</text>
<text x="109.4" y="332.4" font-size="8.4" text-anchor="middle" font-family="Liberation Sans, sans-serif" stroke="#000" stroke-width="0.18" fill="#111">1200</text>
<text x="143.0" y="332.4" font-size="8.4" text-anchor="middle" font-family="Liberation Sans, sans-serif" stroke="#000" stroke-width="0.18" fill="#111">1400</text>
<text x="176.7" y="332.4" font-size="8.4" text-anchor="middle" font-family="Liberation Sans, sans-serif" stroke="#000" stroke-width="0.18" fill="#111">1600</text>
<text x="210.3" y="332.4" font-size="8.4" text-anchor="middle" font-family="Liberation Sans, sans-serif" stroke="#000" stroke-width="0.18" fill="#111">1800</text>
<text x="79.7" y="343.5" font-size="8.4" font-family="Liberation Sans, sans-serif" stroke="#000" stroke-width="0.18" fill="#111">Raman shift (cm<tspan dy="-3" font-size="6">-1</tspan><tspan dy="3">)</tspan></text>
<text transform="translate(5.5,256) rotate(-90)" font-size="7.4" text-anchor="middle" font-family="Liberation Sans, sans-serif" fill="#222">Raman intensity (arb units)</text>
<text x="8.8" y="204" font-size="6.4" font-family="Liberation Sans, sans-serif" stroke="#000" stroke-width="0.18" fill="#111">difference</text>
<text x="16.1" y="253.2" font-size="6.6" font-family="Liberation Sans, sans-serif" stroke="#000" stroke-width="0.18" fill="#111">RNA</text>
<text x="14.9" y="295.3" font-size="6.6" font-family="Liberation Sans, sans-serif" stroke="#000" stroke-width="0.18" fill="#111">DNA</text>
<text x="190.6" y="198.9" font-size="14.8" font-family="Liberation Sans, sans-serif" fill="#000">B</text>
<path d="M9.9,235.3 C10.1,234.5 10.7,231.8 11.1,230.9 C11.5,230.0 12.0,230.3 12.4,229.9 C12.8,229.5 13.3,228.7 13.7,228.3 C14.1,227.9 14.6,227.7 15.0,227.5 C15.4,227.2 15.9,227.0 16.3,226.7 C16.7,226.3 17.2,225.8 17.6,225.5 C18.0,225.2 18.4,225.7 18.9,224.9 C19.4,224.1 20.0,220.9 20.6,220.6 C21.2,220.3 21.7,221.8 22.3,223.3 C22.9,224.8 23.5,227.7 24.1,229.8 C24.7,231.9 25.2,236.3 25.8,236.0 C26.4,235.7 27.0,230.2 27.5,228.0 C28.0,225.8 28.4,224.7 28.8,222.9 C29.2,221.1 29.6,217.0 30.1,217.2 C30.6,217.5 31.3,223.5 31.9,224.6 C32.5,225.6 33.0,224.2 33.6,223.4 C34.2,222.7 34.7,220.3 35.3,220.0 C35.9,219.7 36.6,223.6 37.1,221.5 C37.6,219.4 38.0,212.3 38.4,207.6 C38.8,203.0 39.2,194.1 39.7,193.5 C40.2,192.8 40.8,200.6 41.4,203.8 C42.0,207.0 42.5,211.7 43.1,212.7 C43.7,213.7 44.3,208.7 44.9,209.8 C45.5,210.9 46.1,217.4 46.6,219.5 C47.1,221.5 47.5,221.3 47.9,222.1 C48.3,223.0 48.8,224.5 49.2,224.6 C49.6,224.6 50.1,223.1 50.5,222.3 C50.9,221.5 51.4,220.1 51.8,219.7 C52.2,219.2 52.6,219.5 53.0,219.3 C53.4,219.1 53.7,218.7 54.1,218.5 C54.5,218.3 54.9,218.3 55.3,218.0 C55.7,217.7 56.1,217.1 56.4,216.8 C56.8,216.4 57.2,216.1 57.6,215.7 C57.9,215.4 58.3,214.4 58.7,214.5 C59.1,214.5 59.5,215.4 59.9,216.1 C60.3,216.7 60.6,217.7 61.0,218.3 C61.4,219.0 61.8,219.9 62.2,220.0 C62.6,220.2 63.0,219.4 63.3,219.1 C63.7,218.7 64.1,218.5 64.5,218.1 C64.8,217.8 65.2,217.0 65.6,217.0 C66.0,217.0 66.4,217.7 66.8,218.0 C67.2,218.4 67.5,218.9 67.9,219.2 C68.3,219.6 68.7,220.0 69.1,220.2 C69.5,220.4 69.9,220.5 70.3,220.4 C70.7,220.4 71.0,220.0 71.4,219.9 C71.8,219.8 72.1,220.3 72.6,219.9 C73.1,219.6 73.7,219.3 74.3,217.8 C74.9,216.4 75.5,211.3 76.1,211.3 C76.7,211.4 77.2,216.4 77.8,218.1 C78.4,219.9 78.9,221.7 79.5,222.0 C80.1,222.2 80.8,219.3 81.3,219.5 C81.8,219.7 82.2,222.0 82.6,223.0 C83.0,224.0 83.5,225.2 83.9,225.7 C84.3,226.1 84.7,225.9 85.0,225.8 C85.4,225.7 85.8,225.3 86.2,225.1 C86.5,224.9 86.9,225.1 87.3,224.6 C87.7,224.1 88.2,222.9 88.6,221.9 C89.0,221.0 89.5,220.5 89.9,219.0 C90.3,217.5 90.7,215.0 91.1,213.0 C91.4,211.0 91.8,207.3 92.2,207.2 C92.6,207.1 92.9,210.5 93.2,212.2 C93.6,213.9 93.9,216.1 94.3,217.4 C94.7,218.8 95.2,219.4 95.6,220.3 C96.0,221.2 96.5,222.2 96.9,222.8 C97.3,223.5 97.8,223.8 98.2,224.2 C98.6,224.7 99.1,225.3 99.5,225.4 C99.9,225.6 100.3,225.1 100.6,225.1 C101.0,225.1 101.4,225.4 101.8,225.4 C102.1,225.3 102.5,225.0 102.9,224.7 C103.3,224.4 103.8,224.0 104.2,223.6 C104.6,223.2 105.0,222.2 105.5,222.3 C106.0,222.3 106.8,223.8 107.3,223.8 C107.8,223.7 108.2,222.7 108.6,222.0 C109.0,221.3 109.5,220.2 109.9,219.4 C110.3,218.7 110.8,218.3 111.2,217.6 C111.6,216.9 112.1,216.1 112.5,215.0 C112.9,213.9 113.4,212.4 113.8,210.9 C114.2,209.5 114.7,207.0 115.1,206.5 C115.5,206.0 116.0,207.3 116.4,207.8 C116.8,208.4 117.3,208.7 117.7,209.6 C118.1,210.6 118.5,212.3 118.8,213.5 C119.2,214.8 119.6,215.9 120.0,217.2 C120.3,218.6 120.7,221.3 121.1,221.7 C121.5,222.0 122.0,220.1 122.4,219.4 C122.8,218.8 123.3,218.3 123.7,217.8 C124.1,217.4 124.6,217.3 125.0,216.8 C125.4,216.4 125.9,216.4 126.3,215.4 C126.7,214.4 127.2,212.4 127.6,211.1 C128.0,209.9 128.4,208.8 128.9,207.8 C129.4,206.9 130.0,206.6 130.6,205.6 C131.2,204.6 131.8,201.8 132.4,202.1 C133.0,202.5 133.6,206.1 134.1,207.7 C134.6,209.3 135.0,210.3 135.4,211.7 C135.8,213.1 136.2,215.4 136.7,216.1 C137.2,216.8 138.0,215.9 138.5,215.9 C139.0,215.9 139.2,216.0 139.6,216.1 C139.9,216.3 140.3,216.6 140.7,216.7 C141.0,216.8 141.4,216.6 141.7,216.7 C142.1,216.8 142.4,217.2 142.8,217.2 C143.2,217.2 143.6,216.8 144.0,216.7 C144.4,216.6 144.7,216.5 145.1,216.5 C145.5,216.4 145.8,215.6 146.3,216.5 C146.8,217.5 147.4,218.9 148.0,222.3 C148.6,225.7 149.1,237.2 149.7,237.1 C150.3,236.9 151.0,224.3 151.5,221.7 C152.0,219.0 152.4,221.3 152.8,221.2 C153.2,221.1 153.7,221.7 154.1,221.2 C154.5,220.6 154.8,219.1 155.1,217.9 C155.5,216.7 155.8,215.4 156.2,214.1 C156.5,212.8 156.9,209.8 157.2,209.9 C157.5,210.1 157.9,213.3 158.2,215.1 C158.6,216.9 158.9,219.6 159.3,220.7 C159.7,221.8 160.1,221.5 160.4,221.7 C160.8,221.9 161.2,221.8 161.6,222.1 C161.9,222.4 162.3,223.2 162.7,223.5 C163.1,223.8 163.4,223.8 163.8,223.9 C164.2,224.0 164.5,224.0 164.9,224.1 C165.3,224.2 165.6,224.3 166.0,224.4 C166.4,224.5 166.7,225.0 167.1,224.6 C167.5,224.2 168.0,222.7 168.4,222.0 C168.8,221.2 169.3,221.1 169.7,220.0 C170.1,219.0 170.6,216.9 171.0,215.6 C171.4,214.3 171.9,211.8 172.3,212.0 C172.7,212.3 173.2,215.2 173.6,216.9 C174.0,218.7 174.5,221.8 174.9,222.5 C175.3,223.2 175.8,221.6 176.2,221.1 C176.6,220.6 177.1,219.8 177.5,219.6 C177.9,219.3 178.3,219.6 178.7,219.8 C179.1,219.9 179.4,220.4 179.8,220.5 C180.2,220.5 180.6,220.7 181.0,220.3 C181.4,219.9 181.8,218.6 182.1,217.8 C182.5,217.0 182.9,216.2 183.3,215.4 C183.6,214.6 184.0,212.7 184.4,212.9 C184.8,213.2 185.3,215.7 185.7,217.1 C186.1,218.5 186.6,221.3 187.0,221.2 C187.4,221.2 187.7,218.6 188.1,217.1 C188.4,215.5 188.8,213.6 189.1,211.9 C189.5,210.3 189.8,207.4 190.2,207.2 C190.6,206.9 191.2,209.3 191.6,210.4 C192.1,211.5 192.7,212.8 193.1,213.6 C193.5,214.3 193.9,214.3 194.3,214.8 C194.7,215.2 195.0,215.8 195.4,216.3 C195.8,216.8 196.2,217.4 196.6,217.9 C197.0,218.4 197.5,218.9 197.9,219.4 C198.3,219.8 198.8,220.3 199.2,220.3 C199.6,220.4 200.1,219.8 200.5,219.6 C200.9,219.4 201.4,219.3 201.8,219.1 C202.2,218.9 202.7,218.6 203.1,218.3 C203.5,218.0 204.2,217.3 204.4,217.1" fill="none" stroke="#d03a2a" stroke-width="1.25" stroke-linejoin="round" stroke-linecap="round" opacity="1.0"/>
<path d="M9.0,260.5 C9.2,261.1 9.7,262.9 10.1,264.1 C10.4,265.3 10.8,267.0 11.1,267.6 C11.4,268.2 11.8,267.6 12.1,267.6 C12.4,267.7 12.8,267.7 13.1,267.9 C13.4,268.0 13.8,268.3 14.1,268.5 C14.4,268.8 14.8,269.1 15.1,269.4 C15.4,269.8 15.8,270.4 16.1,270.8 C16.4,271.2 16.8,271.8 17.1,271.7 C17.4,271.7 17.8,271.0 18.1,270.7 C18.5,270.3 18.9,269.3 19.2,269.6 C19.5,270.0 19.9,271.8 20.2,272.7 C20.5,273.7 20.9,274.6 21.2,275.4 C21.5,276.1 21.9,276.5 22.2,276.9 C22.5,277.4 22.9,277.6 23.2,278.1 C23.5,278.6 23.9,280.0 24.2,280.0 C24.5,279.9 24.9,278.4 25.2,277.8 C25.5,277.3 25.9,278.2 26.2,276.8 C26.5,275.5 26.9,272.0 27.2,269.8 C27.6,267.6 28.0,265.3 28.3,263.6 C28.6,262.0 29.0,261.1 29.3,259.8 C29.6,258.6 29.8,255.8 30.3,256.3 C30.8,256.8 31.8,261.4 32.3,262.7 C32.8,264.1 33.0,263.8 33.3,264.5 C33.6,265.2 34.0,266.0 34.3,266.9 C34.6,267.8 35.0,269.5 35.3,269.9 C35.6,270.3 36.0,269.4 36.3,269.1 C36.7,268.8 37.1,271.9 37.4,268.3 C37.7,264.7 38.1,254.7 38.4,247.7 C38.7,240.7 39.1,227.0 39.4,226.4 C39.7,225.8 40.1,238.0 40.4,244.0 C40.7,250.0 41.0,260.8 41.4,262.4 C41.8,264.1 42.3,256.9 42.7,254.1 C43.1,251.4 43.6,246.3 44.0,246.2 C44.4,246.1 44.8,251.1 45.2,253.5 C45.7,255.8 46.1,257.6 46.5,260.3 C46.9,262.9 47.2,266.4 47.5,269.2 C47.8,272.1 48.2,276.3 48.5,277.4 C48.8,278.5 49.2,276.3 49.5,275.9 C49.8,275.5 50.2,275.5 50.5,274.8 C50.8,274.1 51.2,272.8 51.5,271.8 C51.9,270.9 52.2,270.0 52.6,269.1 C52.9,268.3 53.3,267.2 53.6,266.6 C53.9,265.9 54.3,265.6 54.6,265.2 C54.9,264.7 55.3,264.2 55.6,263.8 C55.9,263.3 56.3,261.9 56.6,262.2 C56.9,262.4 57.3,264.3 57.6,265.4 C57.9,266.4 58.3,267.3 58.6,268.2 C58.9,269.2 59.3,270.1 59.6,270.9 C59.9,271.8 60.3,272.6 60.6,273.4 C61.0,274.2 61.3,275.0 61.7,275.9 C62.0,276.8 62.4,277.7 62.7,278.6 C63.0,279.5 63.4,280.4 63.7,281.2 C64.0,282.0 64.4,282.8 64.7,283.5 C65.0,284.2 65.4,285.1 65.7,285.4 C66.0,285.7 66.4,285.3 66.7,285.2 C67.0,285.1 67.4,285.0 67.7,284.9 C68.0,284.9 68.2,285.7 68.7,284.7 C69.2,283.8 70.0,280.6 70.5,279.2 C71.0,277.8 71.3,277.3 71.8,276.3 C72.2,275.3 72.6,273.7 73.0,273.3 C73.4,272.8 73.7,273.6 74.0,273.6 C74.4,273.5 74.7,273.2 75.0,273.1 C75.4,272.9 75.7,273.0 76.1,272.9 C76.4,272.8 76.8,272.5 77.1,272.4 C77.4,272.3 77.8,272.2 78.1,272.0 C78.4,271.9 78.8,271.6 79.1,271.5 C79.4,271.4 79.8,271.5 80.1,271.3 C80.4,271.1 80.8,270.7 81.1,270.3 C81.4,270.0 81.8,269.7 82.1,269.3 C82.5,268.8 82.8,268.1 83.2,267.6 C83.5,267.2 83.9,267.3 84.2,266.6 C84.5,265.9 84.9,264.4 85.2,263.5 C85.5,262.5 85.9,261.8 86.2,260.9 C86.5,260.1 86.9,258.9 87.2,258.3 C87.5,257.7 87.9,257.9 88.2,257.5 C88.5,257.1 88.9,256.8 89.2,256.1 C89.5,255.4 89.9,254.3 90.2,253.3 C90.6,252.3 90.9,251.2 91.3,250.1 C91.6,249.1 92.0,246.2 92.3,247.1 C92.6,248.1 93.0,252.8 93.3,255.7 C93.6,258.6 94.0,261.7 94.3,264.5 C94.6,267.3 95.0,271.1 95.3,272.6 C95.6,274.1 96.0,273.4 96.3,273.6 C96.6,273.8 97.0,273.5 97.3,273.7 C97.6,273.9 98.0,274.7 98.3,274.9 C98.6,275.1 99.0,274.8 99.3,274.8 C99.7,274.8 100.0,274.8 100.3,274.9 C100.7,275.0 101.0,275.4 101.4,275.5 C101.7,275.7 102.1,275.8 102.4,275.9 C102.7,276.0 103.1,276.0 103.4,276.3 C103.7,276.6 104.1,277.1 104.4,277.5 C104.7,277.9 105.1,278.9 105.4,278.9 C105.7,278.9 106.1,278.0 106.4,277.5 C106.7,277.1 107.1,276.4 107.4,276.4 C107.7,276.5 108.1,277.3 108.4,277.8 C108.7,278.3 109.1,279.9 109.4,279.4 C109.7,278.9 110.1,276.3 110.4,274.7 C110.8,273.1 111.1,271.5 111.5,269.9 C111.8,268.3 112.1,267.0 112.5,264.8 C112.9,262.7 113.3,259.5 113.7,256.9 C114.1,254.3 114.5,249.9 114.9,249.0 C115.3,248.1 115.7,250.7 116.1,251.5 C116.5,252.4 117.0,253.4 117.4,254.2 C117.8,255.1 118.2,255.3 118.6,256.6 C119.0,258.0 119.4,260.4 119.8,262.2 C120.2,264.1 120.6,265.8 121.0,267.7 C121.4,269.6 121.8,273.1 122.2,273.6 C122.6,274.1 123.0,271.6 123.3,270.6 C123.7,269.6 124.1,268.7 124.5,267.6 C124.8,266.6 125.2,265.2 125.6,264.3 C126.0,263.5 126.3,263.2 126.6,262.4 C127.0,261.7 127.3,260.9 127.7,260.0 C128.0,259.2 128.4,257.7 128.7,257.2 C129.0,256.6 129.4,256.8 129.7,256.8 C130.0,256.7 130.3,257.4 130.7,256.7 C131.1,255.9 131.5,253.5 131.9,252.2 C132.3,250.9 132.7,248.2 133.1,248.6 C133.5,249.1 133.8,252.7 134.1,254.9 C134.4,257.1 134.7,260.3 135.1,261.6 C135.5,262.9 136.0,262.4 136.4,262.6 C136.9,262.9 137.4,262.8 137.8,263.3 C138.2,263.8 138.6,264.6 139.0,265.3 C139.4,266.1 139.7,266.8 140.0,267.7 C140.4,268.5 140.7,269.5 141.1,270.3 C141.4,271.1 141.8,271.8 142.1,272.6 C142.4,273.5 142.8,274.2 143.1,275.3 C143.4,276.3 143.8,277.8 144.1,278.8 C144.4,279.9 144.8,280.9 145.1,281.5 C145.4,282.2 145.8,282.3 146.1,282.7 C146.4,283.1 146.8,283.6 147.1,284.1 C147.4,284.6 147.8,285.3 148.1,285.8 C148.4,286.2 148.8,287.6 149.1,286.7 C149.4,285.9 149.8,282.7 150.1,280.7 C150.5,278.8 150.9,277.0 151.2,274.9 C151.5,272.7 151.9,270.2 152.2,267.8 C152.5,265.4 152.8,260.5 153.2,260.6 C153.6,260.7 154.3,268.5 154.8,268.4 C155.3,268.3 155.6,262.8 156.0,260.0 C156.4,257.2 156.8,251.6 157.2,251.6 C157.6,251.6 157.9,257.3 158.2,260.1 C158.6,262.9 159.0,265.8 159.3,268.6 C159.6,271.3 160.0,273.8 160.3,276.5 C160.6,279.2 161.0,283.0 161.3,284.6 C161.6,286.2 162.0,285.7 162.3,286.2 C162.6,286.7 163.0,287.1 163.3,287.4 C163.6,287.8 164.0,288.2 164.3,288.4 C164.6,288.5 165.0,288.3 165.3,288.2 C165.6,288.1 166.0,287.9 166.3,287.6 C166.6,287.4 167.0,287.7 167.3,286.9 C167.6,286.1 168.0,284.1 168.3,282.6 C168.7,281.2 169.0,279.8 169.4,278.3 C169.7,276.8 170.1,275.8 170.4,273.6 C170.7,271.4 171.1,268.1 171.4,265.2 C171.7,262.3 172.1,256.7 172.4,256.3 C172.7,255.9 173.1,260.5 173.4,262.7 C173.7,264.8 174.1,268.4 174.4,269.4 C174.7,270.4 175.1,268.9 175.4,268.7 C175.7,268.5 176.1,268.6 176.4,268.5 C176.7,268.3 177.1,268.1 177.4,267.6 C177.7,267.2 178.1,266.4 178.4,265.8 C178.8,265.3 179.1,264.8 179.5,264.2 C179.8,263.6 180.2,262.5 180.5,262.1 C180.8,261.7 181.2,262.0 181.5,261.8 C181.8,261.7 182.2,261.6 182.5,261.3 C182.8,261.1 183.2,260.8 183.5,260.5 C183.8,260.3 184.2,260.0 184.5,259.8 C184.8,259.6 185.2,259.6 185.5,259.3 C185.8,259.1 186.2,258.7 186.5,258.5 C186.9,258.2 187.2,258.2 187.5,257.9 C187.9,257.6 188.2,257.1 188.6,256.7 C188.9,256.4 189.2,256.2 189.6,255.9 C189.9,255.7 190.3,254.9 190.6,255.3 C190.9,255.6 191.3,257.0 191.6,257.9 C191.9,258.7 192.3,259.5 192.6,260.2 C192.9,261.0 193.3,261.7 193.6,262.5 C193.9,263.3 194.3,264.3 194.6,265.1 C194.9,265.8 195.3,266.4 195.6,267.0 C195.9,267.7 196.3,268.5 196.6,269.2 C196.9,269.9 197.3,270.6 197.6,271.2 C198.0,271.8 198.3,272.3 198.7,272.9 C199.0,273.4 199.4,274.0 199.7,274.4 C200.0,274.7 200.4,274.8 200.7,274.8 C201.0,274.9 201.4,274.7 201.7,274.7 C202.0,274.7 202.4,274.7 202.7,274.7 C203.0,274.7 203.4,274.9 203.7,274.9 C204.0,274.9 204.4,275.0 204.7,274.7 C205.1,274.5 205.4,273.8 205.7,273.5 C206.1,273.2 206.4,273.3 206.8,273.2 C207.1,273.0 207.4,272.7 207.8,272.5 C208.1,272.3 208.6,272.2 208.8,272.1" fill="none" stroke="#2c3d8a" stroke-width="1.25" stroke-linejoin="round" stroke-linecap="round" opacity="1.0"/>
<path d="M8.2,301.6 C8.4,301.9 9.0,302.9 9.4,303.5 C9.8,304.1 10.2,304.7 10.6,305.1 C11.0,305.6 11.3,306.0 11.6,306.3 C12.0,306.6 12.3,306.6 12.7,306.9 C13.0,307.2 13.3,307.7 13.7,308.0 C14.0,308.3 14.4,308.5 14.8,308.8 C15.1,309.0 15.5,309.3 15.8,309.6 C16.2,309.9 16.5,310.7 16.9,310.8 C17.3,310.8 17.6,310.1 17.9,309.9 C18.3,309.8 18.6,310.5 19.0,309.8 C19.4,309.1 19.7,306.3 20.1,305.6 C20.6,304.9 21.2,305.2 21.7,305.7 C22.2,306.1 22.8,306.8 23.3,308.2 C23.8,309.5 24.4,312.8 24.9,313.9 C25.4,315.1 25.7,314.7 26.1,315.0 C26.5,315.3 26.8,315.9 27.3,315.8 C27.8,315.7 28.4,316.3 28.9,314.3 C29.4,312.4 30.0,304.4 30.5,304.0 C31.0,303.5 31.2,311.6 31.7,311.7 C32.2,311.7 32.8,306.2 33.3,304.4 C33.8,302.7 34.3,301.3 34.9,301.2 C35.5,301.1 36.2,303.6 36.8,303.6 C37.4,303.6 37.9,305.5 38.4,301.2 C38.9,296.8 39.5,280.6 40.0,277.5 C40.5,274.5 41.0,279.4 41.6,282.9 C42.2,286.4 43.0,295.2 43.5,298.4 C44.0,301.6 44.2,301.0 44.5,302.0 C44.9,303.1 45.2,304.6 45.6,305.0 C46.0,305.4 46.4,304.6 46.8,304.4 C47.2,304.1 47.6,303.2 48.0,303.4 C48.4,303.7 48.8,305.0 49.1,305.8 C49.5,306.5 49.9,307.2 50.3,308.1 C50.7,309.0 51.1,310.3 51.5,311.3 C51.9,312.3 52.3,313.7 52.7,314.4 C53.1,315.0 53.5,314.7 53.9,315.0 C54.3,315.4 54.7,316.6 55.1,316.3 C55.5,316.0 55.9,314.2 56.3,313.2 C56.7,312.1 57.1,310.7 57.5,310.1 C57.9,309.5 58.3,309.7 58.7,309.5 C59.1,309.3 59.5,309.0 59.9,309.0 C60.3,309.1 60.7,309.8 61.1,310.0 C61.5,310.2 61.9,310.0 62.3,310.3 C62.7,310.7 63.1,311.5 63.5,311.9 C63.9,312.4 64.3,312.6 64.7,313.0 C65.1,313.3 65.4,313.5 65.7,313.8 C66.1,314.1 66.4,314.5 66.8,314.9 C67.1,315.2 67.5,316.0 67.8,316.1 C68.1,316.2 68.5,315.6 68.9,315.4 C69.2,315.2 69.6,315.1 69.9,315.0 C70.3,314.9 70.6,314.7 71.0,314.6 C71.4,314.5 71.7,314.5 72.1,314.4 C72.5,314.4 72.8,314.5 73.2,314.2 C73.6,314.0 74.0,313.4 74.4,312.9 C74.8,312.4 75.1,312.1 75.6,311.2 C76.1,310.3 76.7,308.3 77.2,307.7 C77.7,307.2 78.0,307.8 78.3,307.8 C78.7,307.9 79.1,307.9 79.5,308.1 C79.9,308.3 80.3,308.7 80.7,309.1 C81.1,309.5 81.5,310.9 81.9,310.7 C82.3,310.5 82.7,308.8 83.1,307.7 C83.5,306.6 83.9,305.0 84.3,304.1 C84.7,303.2 85.1,303.0 85.5,302.4 C85.9,301.7 86.3,300.8 86.7,300.5 C87.1,300.2 87.5,300.2 87.9,300.3 C88.3,300.3 88.7,301.0 89.1,300.7 C89.5,300.5 89.9,301.9 90.4,298.8 C90.9,295.7 91.4,282.7 92.0,282.1 C92.6,281.6 93.3,291.6 93.9,295.6 C94.5,299.6 95.0,304.1 95.5,306.4 C96.0,308.6 96.3,308.1 96.7,308.9 C97.0,309.8 97.4,311.1 97.8,311.7 C98.2,312.2 98.6,312.2 99.0,312.5 C99.4,312.7 99.8,313.0 100.2,313.2 C100.6,313.4 100.9,313.5 101.3,313.8 C101.6,314.2 102.0,314.9 102.3,315.3 C102.7,315.7 103.0,316.2 103.4,316.0 C103.8,315.8 104.2,314.7 104.6,313.9 C105.0,313.1 105.4,311.6 105.8,311.1 C106.2,310.7 106.5,311.1 106.9,310.9 C107.2,310.7 107.6,310.2 107.9,309.9 C108.3,309.6 108.6,309.7 109.0,309.2 C109.4,308.6 109.8,307.5 110.2,306.8 C110.6,306.1 110.9,306.0 111.4,305.1 C111.9,304.1 112.5,301.7 113.0,301.1 C113.5,300.4 113.8,301.1 114.2,301.1 C114.5,301.0 114.9,301.1 115.3,300.9 C115.7,300.7 116.1,300.4 116.5,300.0 C116.9,299.6 117.2,298.9 117.7,298.5 C118.2,298.1 118.8,297.1 119.3,297.7 C119.8,298.2 120.5,300.5 120.9,301.6 C121.3,302.7 121.6,303.5 122.0,304.3 C122.3,305.1 122.7,305.6 123.0,306.3 C123.4,307.1 123.7,308.8 124.1,308.8 C124.5,308.8 124.9,307.0 125.3,306.3 C125.7,305.5 126.1,304.5 126.5,304.3 C126.9,304.1 127.3,304.8 127.7,305.0 C128.1,305.3 128.5,305.8 128.9,305.8 C129.3,305.9 129.7,305.5 130.1,305.5 C130.4,305.5 130.7,306.5 131.2,305.8 C131.7,305.0 132.3,301.5 132.8,300.9 C133.3,300.3 133.6,301.8 134.0,302.3 C134.4,302.8 134.7,302.8 135.2,303.9 C135.7,304.9 136.4,308.7 136.9,308.5 C137.4,308.4 137.9,304.5 138.4,302.7 C138.8,300.9 139.4,297.6 139.8,297.7 C140.2,297.7 140.6,301.1 141.0,302.8 C141.4,304.6 141.8,306.9 142.2,308.3 C142.6,309.6 143.0,310.0 143.3,311.1 C143.7,312.1 144.1,314.4 144.5,314.5 C144.9,314.6 145.5,312.5 145.9,311.7 C146.4,310.8 147.0,309.3 147.4,309.2 C147.8,309.2 148.1,310.5 148.5,311.4 C148.9,312.3 149.2,314.1 149.6,314.4 C150.0,314.7 150.6,313.7 151.1,313.3 C151.5,313.0 152.1,313.0 152.5,312.5 C152.9,312.1 153.2,311.2 153.6,310.6 C153.9,310.0 154.3,309.5 154.6,309.0 C155.0,308.5 155.3,307.5 155.7,307.5 C156.1,307.5 156.7,310.0 157.3,308.9 C157.9,307.7 158.7,301.0 159.2,300.7 C159.7,300.3 159.9,304.6 160.2,306.6 C160.5,308.6 160.9,311.6 161.2,312.5 C161.5,313.4 161.9,312.2 162.2,312.0 C162.6,311.8 162.8,310.4 163.3,311.2 C163.8,312.1 164.7,316.1 165.2,317.0 C165.7,318.0 165.9,317.1 166.2,316.9 C166.5,316.8 166.9,316.4 167.2,316.3 C167.5,316.2 167.9,316.4 168.2,316.4 C168.5,316.3 168.9,316.4 169.2,316.0 C169.5,315.6 169.9,314.7 170.3,314.1 C170.6,313.5 171.0,312.9 171.3,312.3 C171.7,311.7 172.0,311.6 172.4,310.4 C172.8,309.2 173.1,306.8 173.4,304.9 C173.8,303.0 174.0,298.5 174.5,299.1 C175.0,299.6 175.9,306.8 176.4,308.1 C176.9,309.5 177.2,307.5 177.6,307.3 C178.0,307.2 178.4,307.3 178.8,307.2 C179.1,307.0 179.5,306.8 179.9,306.5 C180.3,306.2 180.7,305.8 181.1,305.5 C181.5,305.1 181.8,305.0 182.1,304.6 C182.4,304.1 182.8,303.3 183.1,302.8 C183.4,302.3 183.8,302.0 184.1,301.6 C184.4,301.2 184.8,300.7 185.1,300.2 C185.4,299.8 185.8,299.4 186.1,299.1 C186.4,298.7 186.8,298.4 187.1,298.1 C187.4,297.7 187.8,297.5 188.1,297.2 C188.4,296.8 188.8,295.8 189.1,295.9 C189.4,296.1 189.8,297.3 190.2,297.8 C190.5,298.2 190.9,298.2 191.2,298.6 C191.6,299.0 191.9,299.8 192.3,300.4 C192.7,301.0 193.2,301.5 193.6,302.1 C194.0,302.8 194.5,303.6 194.9,304.3 C195.3,305.1 195.8,306.1 196.2,306.5 C196.6,307.0 196.9,306.8 197.2,307.0 C197.5,307.2 197.9,307.5 198.2,307.8 C198.5,308.1 198.9,308.4 199.2,308.7 C199.5,309.0 199.8,309.2 200.2,309.5 C200.6,309.7 201.0,309.9 201.4,310.0 C201.8,310.2 202.2,310.4 202.6,310.4 C203.0,310.4 203.4,310.0 203.8,310.0 C204.2,310.0 204.6,310.6 205.0,310.6 C205.4,310.7 205.8,310.3 206.2,310.3 C206.6,310.4 207.0,310.8 207.4,310.8 C207.8,310.8 208.2,310.5 208.6,310.5 C209.0,310.4 209.6,310.6 209.8,310.6" fill="none" stroke="#2a8a48" stroke-width="1.25" stroke-linejoin="round" stroke-linecap="round" opacity="1.0"/>
<line x1="414.5" y1="120" x2="579.5" y2="120" stroke="#c0c0c8" stroke-width="0.8"/>
<line x1="579.5" y1="120" x2="579.5" y2="320" stroke="#c0c0c8" stroke-width="0.8"/>
<line x1="414.5" y1="320" x2="579.5" y2="320" stroke="#c0c0c8" stroke-width="0.8"/>
<line x1="414.5" y1="120" x2="414.5" y2="320" stroke="#9a9aa8" stroke-width="1"/>
<line x1="414.5" y1="320" x2="579.5" y2="320" stroke="#4a4a70" stroke-width="0.9"/>
<line x1="414.5" y1="320" x2="414.5" y2="318.4" stroke="#4a4a70" stroke-width="0.6"/>
<line x1="414.5" y1="120" x2="414.5" y2="121.6" stroke="#707080" stroke-width="0.6"/>
<line x1="421.4" y1="320" x2="421.4" y2="319" stroke="#4a4a70" stroke-width="0.6"/>
<line x1="421.4" y1="120" x2="421.4" y2="121" stroke="#707080" stroke-width="0.6"/>
<line x1="428.2" y1="320" x2="428.2" y2="319" stroke="#4a4a70" stroke-width="0.6"/>
<line x1="428.2" y1="120" x2="428.2" y2="121" stroke="#707080" stroke-width="0.6"/>
<line x1="435.1" y1="320" x2="435.1" y2="319" stroke="#4a4a70" stroke-width="0.6"/>
<line x1="435.1" y1="120" x2="435.1" y2="121" stroke="#707080" stroke-width="0.6"/>
<line x1="442.0" y1="320" x2="442.0" y2="318.4" stroke="#4a4a70" stroke-width="0.6"/>
<line x1="442.0" y1="120" x2="442.0" y2="121.6" stroke="#707080" stroke-width="0.6"/>
<line x1="448.9" y1="320" x2="448.9" y2="319" stroke="#4a4a70" stroke-width="0.6"/>
<line x1="448.9" y1="120" x2="448.9" y2="121" stroke="#707080" stroke-width="0.6"/>
<line x1="455.8" y1="320" x2="455.8" y2="319" stroke="#4a4a70" stroke-width="0.6"/>
<line x1="455.8" y1="120" x2="455.8" y2="121" stroke="#707080" stroke-width="0.6"/>
<line x1="462.6" y1="320" x2="462.6" y2="319" stroke="#4a4a70" stroke-width="0.6"/>
<line x1="462.6" y1="120" x2="462.6" y2="121" stroke="#707080" stroke-width="0.6"/>
<line x1="469.5" y1="320" x2="469.5" y2="318.4" stroke="#4a4a70" stroke-width="0.6"/>
<line x1="469.5" y1="120" x2="469.5" y2="121.6" stroke="#707080" stroke-width="0.6"/>
<line x1="476.4" y1="320" x2="476.4" y2="319" stroke="#4a4a70" stroke-width="0.6"/>
<line x1="476.4" y1="120" x2="476.4" y2="121" stroke="#707080" stroke-width="0.6"/>
<line x1="483.2" y1="320" x2="483.2" y2="319" stroke="#4a4a70" stroke-width="0.6"/>
<line x1="483.2" y1="120" x2="483.2" y2="121" stroke="#707080" stroke-width="0.6"/>
<line x1="490.1" y1="320" x2="490.1" y2="319" stroke="#4a4a70" stroke-width="0.6"/>
<line x1="490.1" y1="120" x2="490.1" y2="121" stroke="#707080" stroke-width="0.6"/>
<line x1="497.0" y1="320" x2="497.0" y2="318.4" stroke="#4a4a70" stroke-width="0.6"/>
<line x1="497.0" y1="120" x2="497.0" y2="121.6" stroke="#707080" stroke-width="0.6"/>
<line x1="503.9" y1="320" x2="503.9" y2="319" stroke="#4a4a70" stroke-width="0.6"/>
<line x1="503.9" y1="120" x2="503.9" y2="121" stroke="#707080" stroke-width="0.6"/>
<line x1="510.8" y1="320" x2="510.8" y2="319" stroke="#4a4a70" stroke-width="0.6"/>
<line x1="510.8" y1="120" x2="510.8" y2="121" stroke="#707080" stroke-width="0.6"/>
<line x1="517.6" y1="320" x2="517.6" y2="319" stroke="#4a4a70" stroke-width="0.6"/>
<line x1="517.6" y1="120" x2="517.6" y2="121" stroke="#707080" stroke-width="0.6"/>
<line x1="524.5" y1="320" x2="524.5" y2="318.4" stroke="#4a4a70" stroke-width="0.6"/>
<line x1="524.5" y1="120" x2="524.5" y2="121.6" stroke="#707080" stroke-width="0.6"/>
<line x1="531.4" y1="320" x2="531.4" y2="319" stroke="#4a4a70" stroke-width="0.6"/>
<line x1="531.4" y1="120" x2="531.4" y2="121" stroke="#707080" stroke-width="0.6"/>
<line x1="538.2" y1="320" x2="538.2" y2="319" stroke="#4a4a70" stroke-width="0.6"/>
<line x1="538.2" y1="120" x2="538.2" y2="121" stroke="#707080" stroke-width="0.6"/>
<line x1="545.1" y1="320" x2="545.1" y2="319" stroke="#4a4a70" stroke-width="0.6"/>
<line x1="545.1" y1="120" x2="545.1" y2="121" stroke="#707080" stroke-width="0.6"/>
<line x1="552.0" y1="320" x2="552.0" y2="318.4" stroke="#4a4a70" stroke-width="0.6"/>
<line x1="552.0" y1="120" x2="552.0" y2="121.6" stroke="#707080" stroke-width="0.6"/>
<line x1="558.9" y1="320" x2="558.9" y2="319" stroke="#4a4a70" stroke-width="0.6"/>
<line x1="558.9" y1="120" x2="558.9" y2="121" stroke="#707080" stroke-width="0.6"/>
<line x1="565.8" y1="320" x2="565.8" y2="319" stroke="#4a4a70" stroke-width="0.6"/>
<line x1="565.8" y1="120" x2="565.8" y2="121" stroke="#707080" stroke-width="0.6"/>
<line x1="572.6" y1="320" x2="572.6" y2="319" stroke="#4a4a70" stroke-width="0.6"/>
<line x1="572.6" y1="120" x2="572.6" y2="121" stroke="#707080" stroke-width="0.6"/>
<line x1="579.5" y1="320" x2="579.5" y2="318.4" stroke="#4a4a70" stroke-width="0.6"/>
<line x1="579.5" y1="120" x2="579.5" y2="121.6" stroke="#707080" stroke-width="0.6"/>
<text x="414.5" y="329.3" font-size="7" text-anchor="middle" font-family="Liberation Sans, sans-serif" fill="#222" textLength="7.3" lengthAdjust="spacingAndGlyphs">600</text>
<text x="442.0" y="329.3" font-size="7" text-anchor="middle" font-family="Liberation Sans, sans-serif" fill="#222" textLength="7.3" lengthAdjust="spacingAndGlyphs">800</text>
<text x="469.5" y="329.3" font-size="7" text-anchor="middle" font-family="Liberation Sans, sans-serif" fill="#222" textLength="9.5" lengthAdjust="spacingAndGlyphs">1000</text>
<text x="497.0" y="329.3" font-size="7" text-anchor="middle" font-family="Liberation Sans, sans-serif" fill="#222" textLength="9.5" lengthAdjust="spacingAndGlyphs">1200</text>
<text x="524.5" y="329.3" font-size="7" text-anchor="middle" font-family="Liberation Sans, sans-serif" fill="#222" textLength="9.5" lengthAdjust="spacingAndGlyphs">1400</text>
<text x="552.0" y="329.3" font-size="7" text-anchor="middle" font-family="Liberation Sans, sans-serif" fill="#222" textLength="9.5" lengthAdjust="spacingAndGlyphs">1600</text>
<text x="579.5" y="329.3" font-size="7" text-anchor="middle" font-family="Liberation Sans, sans-serif" fill="#222" textLength="9.5" lengthAdjust="spacingAndGlyphs">1800</text>
<text x="478.2" y="340" font-size="7.2" font-family="Liberation Sans, sans-serif" fill="#222" textLength="38" lengthAdjust="spacingAndGlyphs">Raman shift (cm<tspan dy="-2.5" font-size="4.5">-1</tspan><tspan dy="2.5">)</tspan></text>
<text transform="translate(399.0,140.7) scale(0.9,1)" font-size="16.8" font-family="Liberation Sans, sans-serif" fill="#000">F</text>
<polyline points="415.1,185.7 416.3,183.3 417.5,185.3 418.9,182.0 420.3,184.6 421.5,182.1 422.4,182.3 423.3,184.9 424.1,182.7 425.0,181.8 425.9,180.5 426.7,181.5 427.6,180.0 428.5,178.7 429.3,175.9 430.2,174.5 431.1,170.9 432.5,175.6 433.7,177.3 434.5,177.5 435.4,176.2 436.2,178.3 437.1,178.1 438.0,176.4 438.9,172.6 439.7,163.9 440.6,168.4 441.5,174.1 442.4,172.0 443.2,171.7 444.6,171.8 445.8,168.9 446.6,170.5 447.5,173.5 448.4,170.0 449.3,167.9 450.1,168.7 451.0,171.8 451.9,168.4 452.7,167.2 453.6,166.6 454.5,168.8 455.4,168.3 456.3,167.9 457.1,165.6 458.0,165.8 458.9,162.8 459.7,162.7 460.6,160.0 461.5,163.6 462.3,164.7 463.2,166.0 464.0,164.9 464.9,166.8 465.7,166.3 466.5,168.3 467.3,168.3 468.2,168.6 469.2,167.2 469.8,136.7 470.5,172.8 471.4,171.7 472.2,168.5 473.1,168.0 474.2,168.0 475.4,170.1 476.5,167.9 477.7,168.0 478.9,165.6 480.0,165.5 481.1,160.4 482.3,157.1 483.5,162.5 484.6,169.2 485.8,171.1 486.9,176.0 488.0,179.0 489.2,183.8 490.4,181.8 491.5,182.1 492.6,181.0 493.8,182.9 495.0,179.2 496.2,178.0 497.4,173.7 498.5,171.7 499.4,166.7 500.2,164.4 501.0,160.0 501.9,157.5 503.0,157.2 504.2,159.4 505.4,160.8 506.5,164.6 507.4,160.7 508.2,159.9 509.1,156.1 510.0,155.2 510.9,153.4 511.8,153.9 512.6,152.7 513.5,153.1 514.4,152.9 515.3,154.9 516.2,158.7 517.2,164.4 518.1,168.1 519.2,172.9 520.4,175.9 521.5,178.6 522.6,178.9 523.5,179.4 524.3,178.2 525.2,178.1 526.1,176.1 526.9,175.5 527.8,172.7 528.5,166.8 529.5,154.4 530.4,145.1 531.5,149.1 532.7,155.5 534.0,169.3 534.8,178.0 535.6,185.4 536.5,189.3 537.3,191.8 538.2,196.4 539.1,196.8 540.0,198.8 540.8,198.9 541.7,200.6 542.6,199.5 543.4,199.8 544.3,198.3 545.2,196.9 546.0,193.8 546.9,193.0 547.8,189.5 548.6,187.8 549.5,189.7 550.4,193.0 551.2,189.9 552.1,188.5 553.0,187.6 553.8,188.4 554.7,186.8 555.5,185.9 556.4,183.3 557.5,180.3 558.5,175.0 559.9,162.9 560.8,164.2 561.6,166.9 562.5,174.8 563.4,184.6 564.2,189.3 565.1,196.6 566.0,198.3 566.8,202.1 567.7,203.0 568.6,205.2 569.5,205.2 570.3,207.1 571.2,206.8 572.1,208.4 572.9,208.0 573.8,209.6 574.6,209.5" fill="none" stroke="#4a5890" stroke-width="0.7" stroke-linejoin="round" stroke-linecap="round" opacity="1.0" />
<polyline points="415.1,212.5 416.0,212.5 416.9,209.7 418.1,212.7 419.0,210.0 419.8,209.7 420.6,209.6 421.5,212.0 422.4,209.7 423.3,209.6 424.2,209.0 425.0,210.4 425.9,210.2 426.8,210.6 427.6,208.9 428.5,209.9 429.4,205.5 430.2,204.4 431.4,199.0 432.8,204.2 433.6,205.3 434.5,207.5 435.4,205.5 436.3,205.1 437.1,205.1 438.0,207.2 438.9,199.3 439.7,194.0 440.6,197.8 441.5,203.1 442.4,200.8 443.2,199.8 444.0,199.4 444.9,201.2 445.8,197.5 446.7,196.3 447.5,197.3 448.4,201.1 449.2,197.4 450.1,196.8 451.0,195.8 451.8,197.9 452.7,197.3 453.6,197.5 454.5,194.6 455.4,194.6 456.3,192.7 457.1,193.3 458.0,191.2 458.9,191.1 459.7,188.8 460.6,189.0 461.5,189.1 462.3,191.8 463.2,192.1 464.1,193.6 464.9,192.3 465.8,193.9 466.7,194.9 467.6,198.3 469.2,195.3 469.8,168.5 470.5,198.7 471.9,202.3 472.8,199.9 473.7,199.6 474.5,199.3 475.4,201.4 476.3,199.6 477.1,200.3 478.0,198.4 478.9,198.8 479.7,196.4 480.6,196.4 481.5,190.8 482.3,187.7 483.2,190.2 484.1,194.4 485.0,197.0 485.8,201.9 486.6,202.5 487.5,205.5 488.4,208.0 489.3,213.0 490.1,212.3 491.0,214.3 491.9,212.0 492.7,211.6 493.6,211.2 494.5,212.7 495.4,210.2 496.2,209.6 497.0,205.5 497.9,203.3 498.8,199.3 499.7,197.9 500.6,194.3 501.4,192.6 502.3,188.4 503.1,188.7 504.0,186.9 504.9,189.3 505.7,190.3 506.6,193.0 507.5,193.9 508.4,192.1 509.2,188.1 510.1,186.1 511.0,184.3 511.8,184.0 512.7,182.0 513.6,182.8 514.4,181.9 515.3,182.6 516.1,184.9 517.0,189.1 517.9,194.9 518.8,203.0 519.7,204.0 520.5,206.1 521.4,206.5 522.6,209.7 523.5,208.2 524.3,208.3 525.2,207.1 526.1,206.1 526.9,203.1 527.8,202.8 528.6,194.8 529.5,189.8 530.4,180.0 531.3,173.3 532.1,176.8 533.0,182.4 533.9,191.0 534.7,201.6 535.6,207.3 536.4,214.4 537.3,219.5 538.2,222.3 539.0,223.1 539.9,225.9 540.8,226.6 541.7,227.8 542.5,226.9 543.4,228.5 544.3,226.1 545.1,225.7 546.0,223.6 546.9,222.0 547.7,218.9 548.6,217.0 549.5,219.2 550.4,222.3 551.2,219.2 552.1,217.4 553.0,216.0 553.8,217.2 554.7,215.1 555.6,214.0 556.4,209.9 557.3,207.8 558.2,201.4 559.0,196.9 559.9,190.2 560.8,195.0 561.6,197.0 562.5,201.6 563.4,211.9 564.2,224.1 565.1,226.2 565.9,229.4 566.8,231.6 567.7,233.5 568.5,233.6 569.4,235.8 570.3,236.2 571.2,237.2 572.0,236.8 572.9,237.9 573.7,237.3 574.6,238.2" fill="none" stroke="#3a9064" stroke-width="0.7" stroke-linejoin="round" stroke-linecap="round" opacity="1.0" />
<polyline points="415.1,240.3 416.0,238.7 416.9,235.1 417.8,238.3 418.6,239.3 419.5,241.9 420.3,243.2 421.5,238.1 422.8,243.0 423.6,239.4 424.5,233.8 425.9,241.2 426.8,238.2 427.6,237.8 428.5,235.8 429.3,235.8 430.7,221.9 431.9,230.3 432.8,231.9 433.7,236.2 434.5,233.5 435.4,233.1 436.2,230.5 437.1,230.1 438.4,218.7 439.7,212.3 440.6,217.8 441.5,225.6 442.9,214.9 443.8,219.9 444.6,221.8 445.8,230.3 446.6,227.3 447.5,226.8 448.4,226.3 449.3,228.6 450.1,226.0 451.0,226.3 451.9,226.0 452.7,226.9 453.6,226.0 454.5,226.5 455.3,224.5 456.2,224.7 457.1,224.0 457.9,225.3 458.8,224.7 459.7,224.6 460.5,222.2 461.4,222.5 462.3,221.9 463.1,224.3 464.0,223.5 464.9,225.5 465.7,224.2 466.6,225.4 467.8,224.8 468.9,226.9 469.6,199.2 470.4,230.6 471.1,232.5 472.0,232.1 472.8,229.6 473.7,229.5 474.5,229.8 475.4,231.7 476.3,230.4 477.1,231.8 478.0,230.4 478.9,229.6 479.7,226.7 480.6,225.7 481.5,221.3 482.3,218.7 483.2,221.4 484.0,226.6 484.9,230.0 485.8,232.1 486.7,232.5 487.5,238.4 488.4,241.9 489.2,244.9 490.1,244.8 491.0,243.6 491.9,239.7 492.8,241.6 493.6,242.1 494.5,241.2 495.3,239.0 496.2,237.2 497.1,233.5 498.0,232.7 498.8,230.4 499.7,229.7 500.5,223.0 501.4,218.9 502.2,213.2 503.1,210.5 504.0,210.5 504.9,212.6 505.8,214.7 506.6,219.3 507.5,221.4 508.4,220.6 509.2,217.1 510.1,216.5 511.0,213.0 511.8,211.7 512.6,208.1 513.5,206.4 514.4,206.6 515.3,209.6 516.2,209.9 517.1,214.5 517.9,217.7 518.8,222.6 519.7,225.8 520.5,230.6 521.4,233.4 522.3,234.6 523.1,234.0 524.0,235.5 525.2,234.0 526.1,235.7 526.9,235.2 527.8,237.2 528.6,231.5 529.5,227.1 530.8,204.9 531.9,217.1 533.0,226.5 533.9,231.8 534.7,235.0 535.6,241.2 536.4,245.6 537.3,251.6 538.2,252.5 539.0,255.3 539.9,256.0 540.8,257.5 541.6,256.9 542.5,258.4 543.4,256.1 544.2,256.0 545.1,253.4 546.0,249.8 546.8,244.4 547.7,241.2 548.6,244.4 549.5,249.1 550.4,248.8 551.2,250.7 552.1,246.9 553.0,244.7 553.9,244.1 554.7,245.9 555.6,245.2 556.5,242.0 557.3,236.9 558.4,230.6 559.5,221.8 560.5,227.0 561.6,230.1 562.5,237.0 563.3,242.6 564.2,249.8 565.1,252.5 565.9,257.8 566.8,260.5 567.7,262.3 568.5,262.2 569.4,264.7 570.3,264.3 571.2,266.0 572.0,265.9 572.9,267.1 573.7,266.4 574.6,267.7" fill="none" stroke="#e04a3c" stroke-width="0.7" stroke-linejoin="round" stroke-linecap="round" opacity="1.0" />
<polyline points="415.1,270.9 416.0,270.2 416.9,268.1 417.8,270.2 418.6,271.0 419.5,270.4 420.3,267.8 421.2,271.1 422.1,271.4 423.0,270.2 423.8,267.1 424.6,269.4 425.5,270.0 426.6,268.4 427.6,265.7 428.5,264.2 429.3,260.0 430.7,253.8 431.6,255.3 432.5,259.4 433.4,261.3 434.2,264.9 435.0,261.8 435.9,261.6 436.8,260.4 437.7,261.9 438.5,253.7 439.4,247.6 440.2,254.2 441.1,262.8 442.0,255.5 442.9,249.7 443.8,251.2 444.6,255.5 445.5,256.3 446.3,259.5 447.4,255.7 448.4,254.5 449.2,254.4 450.1,257.3 451.0,255.4 451.8,255.8 452.7,254.1 453.6,254.9 454.5,253.9 455.4,254.3 456.3,252.8 457.1,253.5 458.0,252.8 458.9,253.1 459.7,251.5 460.6,251.9 461.5,251.3 462.3,252.9 463.2,252.1 464.1,253.0 464.9,251.9 465.8,252.4 466.7,253.3 467.6,256.1 469.2,253.6 469.7,226.7 470.4,255.6 471.9,258.1 472.8,256.4 473.6,257.2 474.5,256.4 475.4,257.5 476.2,257.1 477.1,259.0 478.0,256.9 478.8,256.5 479.7,254.6 480.6,252.2 481.4,248.3 482.3,246.0 483.2,248.4 484.1,254.0 485.0,254.7 485.8,258.6 486.7,259.9 487.6,263.4 488.4,265.0 489.3,269.5 490.1,269.6 491.0,272.3 491.9,269.6 492.7,269.8 493.6,267.5 494.5,267.4 495.3,265.7 496.2,265.6 497.1,262.5 497.9,261.6 498.8,258.0 499.7,254.5 500.5,250.1 501.4,246.5 502.3,243.7 503.1,243.2 504.0,240.6 504.9,242.4 505.7,242.4 506.6,245.0 507.5,246.8 508.4,249.9 509.4,246.0 510.4,243.0 511.4,240.0 512.5,239.0 513.5,236.5 514.4,239.2 515.3,240.3 516.2,243.6 517.1,246.5 517.9,251.4 518.8,254.2 519.7,258.8 520.5,260.9 521.4,265.8 522.3,264.4 523.1,264.6 524.0,263.4 525.0,263.7 525.9,262.6 526.9,263.4 527.8,254.6 528.6,248.6 529.5,240.6 530.8,231.7 531.9,236.5 533.0,242.8 533.9,249.9 534.7,258.8 535.6,265.7 536.5,274.1 537.4,276.8 538.2,282.0 539.1,284.2 540.0,286.2 540.8,285.5 541.7,287.6 542.6,285.3 543.4,285.9 544.3,283.8 545.1,282.3 546.0,279.6 546.9,277.5 547.7,272.7 548.6,271.2 549.5,273.9 550.4,278.9 551.2,275.3 552.1,274.5 553.0,273.4 553.8,275.0 554.7,274.0 555.5,273.7 556.4,270.9 557.5,267.3 558.5,260.8 559.8,249.2 560.6,251.6 561.5,256.9 562.5,264.3 563.4,274.1 564.2,279.1 565.1,286.3 566.0,286.9 566.8,290.1 567.7,291.0 568.6,292.2 569.5,291.9 570.3,293.7 571.2,293.1 572.1,295.2 572.9,294.6 573.8,295.7 574.6,296.1" fill="none" stroke="#5cbcb8" stroke-width="0.7" stroke-linejoin="round" stroke-linecap="round" opacity="1.0" />
<polygon points="423.8,161.4 425.2,165.1 429.1,165.3 426.0,167.7 427.1,171.5 423.8,169.4 420.5,171.5 421.6,167.7 418.5,165.3 422.4,165.1" fill="#129a68"/>
<polygon points="422.2,191.9 423.6,195.6 427.5,195.8 424.4,198.2 425.5,202.0 422.2,199.9 418.9,202.0 420.0,198.2 416.9,195.8 420.8,195.6" fill="#129a68"/>
<polygon points="418.9,221.6 420.3,227.2 422.9,228.6 420.3,230.0 418.9,235.6 417.5,230.0 414.9,228.6 417.5,227.2" fill="#e0302a"/>
<polygon points="422.2,250.8 423.6,256.9 426.4,258.3 423.6,259.7 422.2,265.8 420.8,259.7 418.0,258.3 420.8,256.9" fill="#e0302a"/>
<text x="236.1" y="17.8" font-size="14.9" font-family="Liberation Sans, sans-serif" fill="#000">C</text>
<text x="249.0" y="193.1" font-size="15.6" font-family="Liberation Sans, sans-serif" fill="#000">D</text>
<text transform="translate(398.5,17.9) scale(0.92,1)" font-size="16" font-family="Liberation Sans, sans-serif" fill="#000">E</text>
</svg>
</body></html>
